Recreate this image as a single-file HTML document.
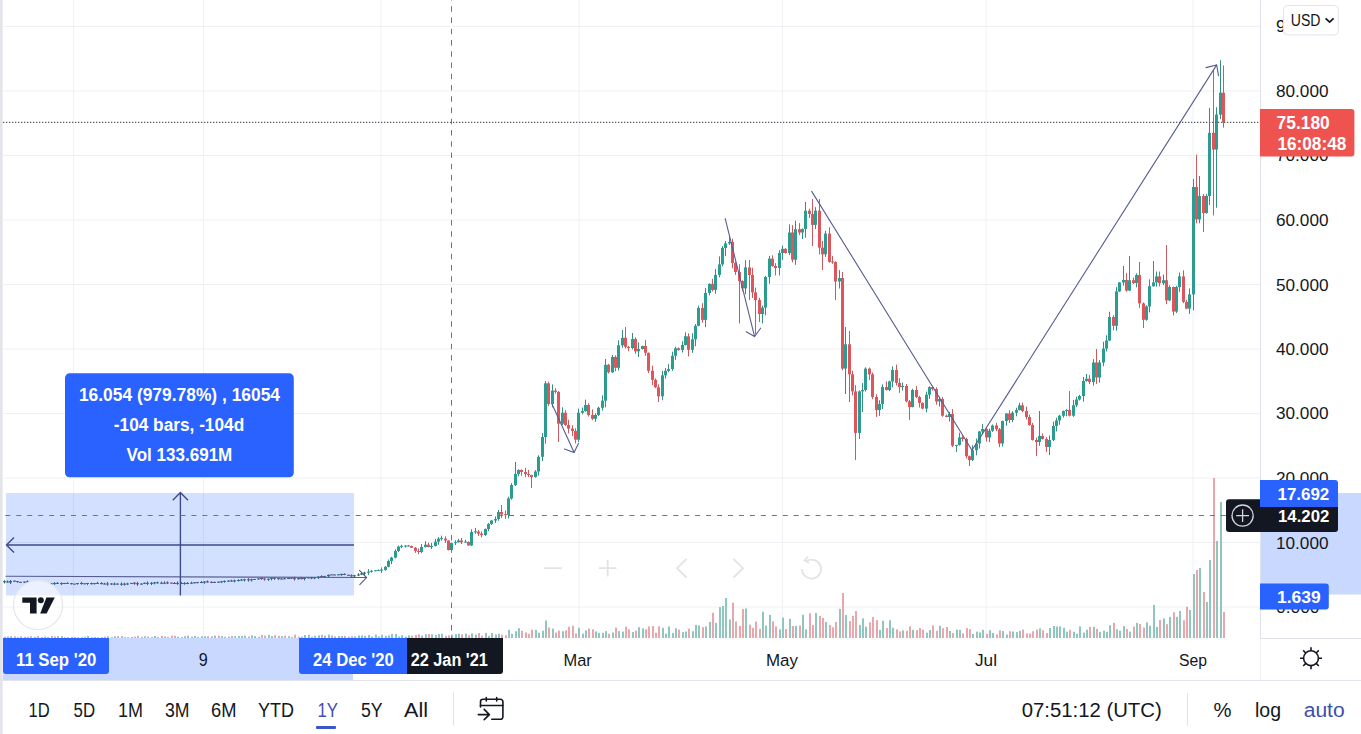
<!DOCTYPE html>
<html><head><meta charset="utf-8">
<style>
html,body{margin:0;padding:0;background:#fff;}
body{width:1361px;height:734px;overflow:hidden;position:relative;font-family:"Liberation Sans",sans-serif;}
svg{position:absolute;left:0;top:0;}
text{font-family:"Liberation Sans",sans-serif;}
</style></head><body>
<svg width="1361" height="734" viewBox="0 0 1361 734">
<rect x="0" y="0" width="1361" height="734" fill="#ffffff"/>
<!-- grid -->
<g stroke="#eff0f4" stroke-width="1">
<path d="M73.5 0V638M203.5 0V638M381 0V638M579 0V638M782.5 0V638M986 0V638M1193 0V638"/>
<path d="M3 26.5H1260M3 91H1260M3 155.5H1260M3 220H1260M3 284.5H1260M3 349H1260M3 413.5H1260M3 478H1260M3 542.5H1260M3 607H1260"/>
</g>
<!-- volume -->
<g>
<rect x="0" y="636.7" width="2" height="1.3" fill="#8fc7bf"/>
<rect x="4" y="636.7" width="2" height="1.3" fill="#8fc7bf"/>
<rect x="7" y="636.4" width="2" height="1.6" fill="#e9a7ac"/>
<rect x="10" y="636.2" width="2" height="1.8" fill="#8fc7bf"/>
<rect x="14" y="636.4" width="2" height="1.6" fill="#e9a7ac"/>
<rect x="17" y="637.1" width="2" height="0.9" fill="#e9a7ac"/>
<rect x="20" y="636.3" width="2" height="1.7" fill="#e9a7ac"/>
<rect x="24" y="636.8" width="2" height="1.2" fill="#8fc7bf"/>
<rect x="27" y="636.7" width="2" height="1.3" fill="#e9a7ac"/>
<rect x="30" y="636.2" width="2" height="1.8" fill="#e9a7ac"/>
<rect x="34" y="636.8" width="2" height="1.2" fill="#8fc7bf"/>
<rect x="37" y="636.0" width="2" height="2.0" fill="#e9a7ac"/>
<rect x="41" y="637.0" width="2" height="1.0" fill="#e9a7ac"/>
<rect x="44" y="636.5" width="2" height="1.5" fill="#8fc7bf"/>
<rect x="47" y="636.8" width="2" height="1.2" fill="#e9a7ac"/>
<rect x="51" y="636.0" width="2" height="2.0" fill="#e9a7ac"/>
<rect x="54" y="636.5" width="2" height="1.5" fill="#8fc7bf"/>
<rect x="57" y="636.1" width="2" height="1.9" fill="#e9a7ac"/>
<rect x="61" y="636.2" width="2" height="1.8" fill="#8fc7bf"/>
<rect x="64" y="637.2" width="2" height="0.8" fill="#e9a7ac"/>
<rect x="67" y="637.2" width="2" height="0.8" fill="#8fc7bf"/>
<rect x="71" y="636.9" width="2" height="1.1" fill="#e9a7ac"/>
<rect x="74" y="637.1" width="2" height="0.9" fill="#8fc7bf"/>
<rect x="77" y="637.3" width="2" height="0.7" fill="#8fc7bf"/>
<rect x="81" y="637.1" width="2" height="0.9" fill="#e9a7ac"/>
<rect x="84" y="636.8" width="2" height="1.2" fill="#8fc7bf"/>
<rect x="87" y="636.0" width="2" height="2.0" fill="#8fc7bf"/>
<rect x="91" y="637.2" width="2" height="0.8" fill="#e9a7ac"/>
<rect x="94" y="637.0" width="2" height="1.0" fill="#8fc7bf"/>
<rect x="97" y="637.3" width="2" height="0.7" fill="#e9a7ac"/>
<rect x="101" y="637.1" width="2" height="0.9" fill="#8fc7bf"/>
<rect x="104" y="636.6" width="2" height="1.4" fill="#e9a7ac"/>
<rect x="107" y="636.3" width="2" height="1.7" fill="#8fc7bf"/>
<rect x="111" y="637.1" width="2" height="0.9" fill="#e9a7ac"/>
<rect x="114" y="636.2" width="2" height="1.8" fill="#8fc7bf"/>
<rect x="117" y="636.1" width="2" height="1.9" fill="#e9a7ac"/>
<rect x="121" y="636.1" width="2" height="1.9" fill="#8fc7bf"/>
<rect x="124" y="636.9" width="2" height="1.1" fill="#e9a7ac"/>
<rect x="127" y="637.2" width="2" height="0.8" fill="#8fc7bf"/>
<rect x="131" y="636.9" width="2" height="1.1" fill="#8fc7bf"/>
<rect x="134" y="636.6" width="2" height="1.4" fill="#e9a7ac"/>
<rect x="137" y="635.8" width="2" height="2.2" fill="#e9a7ac"/>
<rect x="141" y="636.9" width="2" height="1.1" fill="#8fc7bf"/>
<rect x="144" y="636.3" width="2" height="1.7" fill="#8fc7bf"/>
<rect x="147" y="636.5" width="2" height="1.5" fill="#e9a7ac"/>
<rect x="151" y="637.1" width="2" height="0.9" fill="#8fc7bf"/>
<rect x="154" y="636.0" width="2" height="2.0" fill="#8fc7bf"/>
<rect x="157" y="636.9" width="2" height="1.1" fill="#8fc7bf"/>
<rect x="161" y="635.9" width="2" height="2.1" fill="#e9a7ac"/>
<rect x="164" y="636.5" width="2" height="1.5" fill="#8fc7bf"/>
<rect x="167" y="636.9" width="2" height="1.1" fill="#e9a7ac"/>
<rect x="171" y="635.7" width="2" height="2.3" fill="#e9a7ac"/>
<rect x="174" y="635.8" width="2" height="2.2" fill="#e9a7ac"/>
<rect x="177" y="636.6" width="2" height="1.4" fill="#8fc7bf"/>
<rect x="181" y="637.1" width="2" height="0.9" fill="#e9a7ac"/>
<rect x="184" y="636.2" width="2" height="1.8" fill="#8fc7bf"/>
<rect x="187" y="635.6" width="2" height="2.4" fill="#8fc7bf"/>
<rect x="191" y="636.7" width="2" height="1.3" fill="#8fc7bf"/>
<rect x="194" y="636.1" width="2" height="1.9" fill="#8fc7bf"/>
<rect x="197" y="636.9" width="2" height="1.1" fill="#e9a7ac"/>
<rect x="201" y="636.3" width="2" height="1.7" fill="#8fc7bf"/>
<rect x="204" y="636.3" width="2" height="1.7" fill="#8fc7bf"/>
<rect x="207" y="636.1" width="2" height="1.9" fill="#e9a7ac"/>
<rect x="211" y="636.3" width="2" height="1.7" fill="#e9a7ac"/>
<rect x="214" y="635.6" width="2" height="2.4" fill="#8fc7bf"/>
<rect x="218" y="635.7" width="2" height="2.3" fill="#e9a7ac"/>
<rect x="221" y="636.1" width="2" height="1.9" fill="#8fc7bf"/>
<rect x="224" y="636.8" width="2" height="1.2" fill="#8fc7bf"/>
<rect x="228" y="636.5" width="2" height="1.5" fill="#8fc7bf"/>
<rect x="231" y="635.9" width="2" height="2.1" fill="#e9a7ac"/>
<rect x="234" y="636.2" width="2" height="1.8" fill="#8fc7bf"/>
<rect x="238" y="636.0" width="2" height="2.0" fill="#8fc7bf"/>
<rect x="241" y="635.9" width="2" height="2.1" fill="#8fc7bf"/>
<rect x="244" y="635.6" width="2" height="2.4" fill="#8fc7bf"/>
<rect x="248" y="636.5" width="2" height="1.5" fill="#e9a7ac"/>
<rect x="251" y="635.3" width="2" height="2.7" fill="#8fc7bf"/>
<rect x="254" y="636.1" width="2" height="1.9" fill="#8fc7bf"/>
<rect x="258" y="636.8" width="2" height="1.2" fill="#8fc7bf"/>
<rect x="261" y="635.1" width="2" height="2.9" fill="#e9a7ac"/>
<rect x="264" y="635.6" width="2" height="2.4" fill="#e9a7ac"/>
<rect x="268" y="634.9" width="2" height="3.1" fill="#8fc7bf"/>
<rect x="271" y="636.1" width="2" height="1.9" fill="#8fc7bf"/>
<rect x="274" y="635.2" width="2" height="2.8" fill="#e9a7ac"/>
<rect x="278" y="635.8" width="2" height="2.2" fill="#e9a7ac"/>
<rect x="281" y="636.2" width="2" height="1.8" fill="#8fc7bf"/>
<rect x="284" y="635.7" width="2" height="2.3" fill="#e9a7ac"/>
<rect x="288" y="636.2" width="2" height="1.8" fill="#8fc7bf"/>
<rect x="291" y="636.8" width="2" height="1.2" fill="#e9a7ac"/>
<rect x="294" y="634.7" width="2" height="3.3" fill="#e9a7ac"/>
<rect x="298" y="636.8" width="2" height="1.2" fill="#8fc7bf"/>
<rect x="301" y="636.6" width="2" height="1.4" fill="#e9a7ac"/>
<rect x="304" y="635.0" width="2" height="3.0" fill="#8fc7bf"/>
<rect x="308" y="634.7" width="2" height="3.3" fill="#8fc7bf"/>
<rect x="311" y="636.6" width="2" height="1.4" fill="#e9a7ac"/>
<rect x="314" y="635.8" width="2" height="2.2" fill="#8fc7bf"/>
<rect x="318" y="635.3" width="2" height="2.7" fill="#8fc7bf"/>
<rect x="321" y="634.8" width="2" height="3.2" fill="#e9a7ac"/>
<rect x="324" y="635.7" width="2" height="2.3" fill="#8fc7bf"/>
<rect x="328" y="634.6" width="2" height="3.4" fill="#8fc7bf"/>
<rect x="331" y="635.5" width="2" height="2.5" fill="#e9a7ac"/>
<rect x="334" y="636.4" width="2" height="1.6" fill="#8fc7bf"/>
<rect x="338" y="636.0" width="2" height="2.0" fill="#8fc7bf"/>
<rect x="341" y="636.0" width="2" height="2.0" fill="#8fc7bf"/>
<rect x="344" y="635.9" width="2" height="2.1" fill="#e9a7ac"/>
<rect x="348" y="636.7" width="2" height="1.3" fill="#e9a7ac"/>
<rect x="351" y="636.2" width="2" height="1.8" fill="#e9a7ac"/>
<rect x="354" y="636.4" width="2" height="1.6" fill="#8fc7bf"/>
<rect x="358" y="635.4" width="2" height="2.6" fill="#8fc7bf"/>
<rect x="361" y="635.4" width="2" height="2.6" fill="#8fc7bf"/>
<rect x="364" y="635.8" width="2" height="2.2" fill="#8fc7bf"/>
<rect x="368" y="635.0" width="2" height="3.0" fill="#8fc7bf"/>
<rect x="371" y="636.5" width="2" height="1.5" fill="#8fc7bf"/>
<rect x="375" y="634.7" width="2" height="3.3" fill="#8fc7bf"/>
<rect x="378" y="636.4" width="2" height="1.6" fill="#8fc7bf"/>
<rect x="381" y="634.8" width="2" height="3.2" fill="#8fc7bf"/>
<rect x="385" y="635.8" width="2" height="2.2" fill="#8fc7bf"/>
<rect x="388" y="635.4" width="2" height="2.6" fill="#8fc7bf"/>
<rect x="391" y="633.9" width="2" height="4.1" fill="#8fc7bf"/>
<rect x="395" y="633.9" width="2" height="4.1" fill="#8fc7bf"/>
<rect x="398" y="636.6" width="2" height="1.4" fill="#8fc7bf"/>
<rect x="401" y="635.2" width="2" height="2.8" fill="#8fc7bf"/>
<rect x="405" y="636.6" width="2" height="1.4" fill="#8fc7bf"/>
<rect x="408" y="635.4" width="2" height="2.6" fill="#8fc7bf"/>
<rect x="411" y="635.7" width="2" height="2.3" fill="#e9a7ac"/>
<rect x="415" y="635.0" width="2" height="3.0" fill="#e9a7ac"/>
<rect x="418" y="634.4" width="2" height="3.6" fill="#e9a7ac"/>
<rect x="421" y="635.5" width="2" height="2.5" fill="#8fc7bf"/>
<rect x="425" y="634.3" width="2" height="3.7" fill="#8fc7bf"/>
<rect x="428" y="634.0" width="2" height="4.0" fill="#e9a7ac"/>
<rect x="431" y="634.3" width="2" height="3.7" fill="#8fc7bf"/>
<rect x="435" y="634.9" width="2" height="3.1" fill="#8fc7bf"/>
<rect x="438" y="634.0" width="2" height="4.0" fill="#8fc7bf"/>
<rect x="441" y="633.7" width="2" height="4.3" fill="#8fc7bf"/>
<rect x="445" y="635.7" width="2" height="2.3" fill="#e9a7ac"/>
<rect x="448" y="635.3" width="2" height="2.7" fill="#e9a7ac"/>
<rect x="451" y="634.6" width="2" height="3.4" fill="#8fc7bf"/>
<rect x="455" y="634.1" width="2" height="3.9" fill="#8fc7bf"/>
<rect x="458" y="633.6" width="2" height="4.4" fill="#8fc7bf"/>
<rect x="461" y="634.4" width="2" height="3.6" fill="#e9a7ac"/>
<rect x="465" y="633.6" width="2" height="4.4" fill="#8fc7bf"/>
<rect x="468" y="635.2" width="2" height="2.8" fill="#e9a7ac"/>
<rect x="471" y="633.4" width="2" height="4.6" fill="#8fc7bf"/>
<rect x="475" y="634.6" width="2" height="3.4" fill="#8fc7bf"/>
<rect x="478" y="633.0" width="2" height="5.0" fill="#e9a7ac"/>
<rect x="481" y="635.7" width="2" height="2.3" fill="#e9a7ac"/>
<rect x="485" y="632.9" width="2" height="5.1" fill="#8fc7bf"/>
<rect x="488" y="635.9" width="2" height="2.1" fill="#8fc7bf"/>
<rect x="491" y="633.0" width="2" height="5.0" fill="#8fc7bf"/>
<rect x="495" y="634.5" width="2" height="3.5" fill="#8fc7bf"/>
<rect x="498" y="633.7" width="2" height="4.3" fill="#8fc7bf"/>
<rect x="501" y="634.7" width="2" height="3.3" fill="#e9a7ac"/>
<rect x="505" y="635.3" width="2" height="2.7" fill="#e9a7ac"/>
<rect x="508" y="629.9" width="2" height="8.1" fill="#8fc7bf"/>
<rect x="511" y="633.8" width="2" height="4.2" fill="#8fc7bf"/>
<rect x="515" y="631.2" width="2" height="6.8" fill="#8fc7bf"/>
<rect x="518" y="628.2" width="2" height="9.8" fill="#8fc7bf"/>
<rect x="521" y="630.8" width="2" height="7.2" fill="#e9a7ac"/>
<rect x="525" y="632.5" width="2" height="5.5" fill="#e9a7ac"/>
<rect x="528" y="633.8" width="2" height="4.2" fill="#e9a7ac"/>
<rect x="531" y="629.7" width="2" height="8.3" fill="#e9a7ac"/>
<rect x="535" y="629.8" width="2" height="8.2" fill="#8fc7bf"/>
<rect x="538" y="632.6" width="2" height="5.4" fill="#8fc7bf"/>
<rect x="542" y="630.7" width="2" height="7.3" fill="#8fc7bf"/>
<rect x="545" y="620.5" width="2" height="17.5" fill="#8fc7bf"/>
<rect x="548" y="627.5" width="2" height="10.5" fill="#e9a7ac"/>
<rect x="552" y="628.6" width="2" height="9.4" fill="#8fc7bf"/>
<rect x="555" y="632.5" width="2" height="5.5" fill="#e9a7ac"/>
<rect x="558" y="630.7" width="2" height="7.3" fill="#e9a7ac"/>
<rect x="562" y="631.2" width="2" height="6.8" fill="#8fc7bf"/>
<rect x="565" y="630.4" width="2" height="7.6" fill="#e9a7ac"/>
<rect x="568" y="626.7" width="2" height="11.3" fill="#e9a7ac"/>
<rect x="572" y="625.8" width="2" height="12.2" fill="#e9a7ac"/>
<rect x="575" y="633.4" width="2" height="4.6" fill="#e9a7ac"/>
<rect x="578" y="627.8" width="2" height="10.2" fill="#8fc7bf"/>
<rect x="582" y="633.6" width="2" height="4.4" fill="#8fc7bf"/>
<rect x="585" y="630.4" width="2" height="7.6" fill="#8fc7bf"/>
<rect x="588" y="628.5" width="2" height="9.5" fill="#e9a7ac"/>
<rect x="592" y="629.3" width="2" height="8.7" fill="#e9a7ac"/>
<rect x="595" y="631.4" width="2" height="6.6" fill="#8fc7bf"/>
<rect x="598" y="632.9" width="2" height="5.1" fill="#8fc7bf"/>
<rect x="602" y="632.8" width="2" height="5.2" fill="#8fc7bf"/>
<rect x="605" y="631.1" width="2" height="6.9" fill="#8fc7bf"/>
<rect x="608" y="633.7" width="2" height="4.3" fill="#e9a7ac"/>
<rect x="612" y="632.5" width="2" height="5.5" fill="#8fc7bf"/>
<rect x="615" y="627.6" width="2" height="10.4" fill="#e9a7ac"/>
<rect x="618" y="631.1" width="2" height="6.9" fill="#8fc7bf"/>
<rect x="622" y="631.6" width="2" height="6.4" fill="#8fc7bf"/>
<rect x="625" y="626.8" width="2" height="11.2" fill="#e9a7ac"/>
<rect x="628" y="629.3" width="2" height="8.7" fill="#e9a7ac"/>
<rect x="632" y="632.0" width="2" height="6.0" fill="#8fc7bf"/>
<rect x="635" y="630.6" width="2" height="7.4" fill="#e9a7ac"/>
<rect x="638" y="627.2" width="2" height="10.8" fill="#8fc7bf"/>
<rect x="642" y="628.4" width="2" height="9.6" fill="#8fc7bf"/>
<rect x="645" y="629.3" width="2" height="8.7" fill="#e9a7ac"/>
<rect x="648" y="626.5" width="2" height="11.5" fill="#e9a7ac"/>
<rect x="652" y="626.1" width="2" height="11.9" fill="#e9a7ac"/>
<rect x="655" y="632.7" width="2" height="5.3" fill="#e9a7ac"/>
<rect x="658" y="626.3" width="2" height="11.7" fill="#e9a7ac"/>
<rect x="662" y="627.8" width="2" height="10.2" fill="#8fc7bf"/>
<rect x="665" y="633.6" width="2" height="4.4" fill="#8fc7bf"/>
<rect x="668" y="626.5" width="2" height="11.5" fill="#8fc7bf"/>
<rect x="672" y="632.9" width="2" height="5.1" fill="#8fc7bf"/>
<rect x="675" y="628.3" width="2" height="9.7" fill="#8fc7bf"/>
<rect x="678" y="629.7" width="2" height="8.3" fill="#e9a7ac"/>
<rect x="682" y="632.1" width="2" height="5.9" fill="#8fc7bf"/>
<rect x="685" y="631.5" width="2" height="6.5" fill="#8fc7bf"/>
<rect x="688" y="628.7" width="2" height="9.3" fill="#e9a7ac"/>
<rect x="692" y="631.2" width="2" height="6.8" fill="#8fc7bf"/>
<rect x="695" y="624.9" width="2" height="13.1" fill="#8fc7bf"/>
<rect x="698" y="625.5" width="2" height="12.5" fill="#8fc7bf"/>
<rect x="702" y="627.2" width="2" height="10.8" fill="#e9a7ac"/>
<rect x="705" y="626.5" width="2" height="11.5" fill="#8fc7bf"/>
<rect x="709" y="621.9" width="2" height="16.1" fill="#8fc7bf"/>
<rect x="712" y="612.8" width="2" height="25.2" fill="#e9a7ac"/>
<rect x="715" y="622.9" width="2" height="15.1" fill="#8fc7bf"/>
<rect x="719" y="607.1" width="2" height="30.9" fill="#8fc7bf"/>
<rect x="722" y="606.0" width="2" height="32.0" fill="#8fc7bf"/>
<rect x="725" y="598.0" width="2" height="40.0" fill="#8fc7bf"/>
<rect x="729" y="619.5" width="2" height="18.5" fill="#8fc7bf"/>
<rect x="732" y="602.7" width="2" height="35.3" fill="#e9a7ac"/>
<rect x="735" y="621.5" width="2" height="16.5" fill="#e9a7ac"/>
<rect x="739" y="625.9" width="2" height="12.1" fill="#e9a7ac"/>
<rect x="742" y="609.0" width="2" height="29.0" fill="#e9a7ac"/>
<rect x="745" y="608.5" width="2" height="29.5" fill="#8fc7bf"/>
<rect x="749" y="624.7" width="2" height="13.3" fill="#e9a7ac"/>
<rect x="752" y="627.9" width="2" height="10.1" fill="#e9a7ac"/>
<rect x="755" y="621.6" width="2" height="16.4" fill="#e9a7ac"/>
<rect x="759" y="628.8" width="2" height="9.2" fill="#e9a7ac"/>
<rect x="762" y="611.7" width="2" height="26.3" fill="#8fc7bf"/>
<rect x="765" y="625.5" width="2" height="12.5" fill="#8fc7bf"/>
<rect x="769" y="615.0" width="2" height="23.0" fill="#8fc7bf"/>
<rect x="772" y="621.4" width="2" height="16.6" fill="#e9a7ac"/>
<rect x="775" y="626.4" width="2" height="11.6" fill="#e9a7ac"/>
<rect x="779" y="629.3" width="2" height="8.7" fill="#8fc7bf"/>
<rect x="782" y="617.7" width="2" height="20.3" fill="#8fc7bf"/>
<rect x="785" y="629.2" width="2" height="8.8" fill="#e9a7ac"/>
<rect x="789" y="618.8" width="2" height="19.2" fill="#8fc7bf"/>
<rect x="792" y="626.0" width="2" height="12.0" fill="#e9a7ac"/>
<rect x="795" y="626.0" width="2" height="12.0" fill="#8fc7bf"/>
<rect x="799" y="625.5" width="2" height="12.5" fill="#e9a7ac"/>
<rect x="802" y="614.8" width="2" height="23.2" fill="#8fc7bf"/>
<rect x="805" y="629.3" width="2" height="8.7" fill="#8fc7bf"/>
<rect x="809" y="613.3" width="2" height="24.7" fill="#e9a7ac"/>
<rect x="812" y="625.0" width="2" height="13.0" fill="#e9a7ac"/>
<rect x="815" y="613.0" width="2" height="25.0" fill="#8fc7bf"/>
<rect x="819" y="615.9" width="2" height="22.1" fill="#e9a7ac"/>
<rect x="822" y="617.9" width="2" height="20.1" fill="#e9a7ac"/>
<rect x="825" y="622.1" width="2" height="15.9" fill="#8fc7bf"/>
<rect x="829" y="625.0" width="2" height="13.0" fill="#e9a7ac"/>
<rect x="832" y="627.3" width="2" height="10.7" fill="#e9a7ac"/>
<rect x="835" y="622.1" width="2" height="15.9" fill="#e9a7ac"/>
<rect x="839" y="608.9" width="2" height="29.1" fill="#8fc7bf"/>
<rect x="842" y="593.0" width="2" height="45.0" fill="#e9a7ac"/>
<rect x="845" y="615.0" width="2" height="23.0" fill="#8fc7bf"/>
<rect x="849" y="621.1" width="2" height="16.9" fill="#e9a7ac"/>
<rect x="852" y="615.8" width="2" height="22.2" fill="#e9a7ac"/>
<rect x="855" y="611.0" width="2" height="27.0" fill="#e9a7ac"/>
<rect x="859" y="624.9" width="2" height="13.1" fill="#8fc7bf"/>
<rect x="862" y="618.4" width="2" height="19.6" fill="#8fc7bf"/>
<rect x="865" y="626.7" width="2" height="11.3" fill="#8fc7bf"/>
<rect x="869" y="622.3" width="2" height="15.7" fill="#e9a7ac"/>
<rect x="872" y="617.0" width="2" height="21.0" fill="#e9a7ac"/>
<rect x="876" y="620.1" width="2" height="17.9" fill="#e9a7ac"/>
<rect x="879" y="630.0" width="2" height="8.0" fill="#8fc7bf"/>
<rect x="882" y="620.7" width="2" height="17.3" fill="#8fc7bf"/>
<rect x="886" y="628.1" width="2" height="9.9" fill="#e9a7ac"/>
<rect x="889" y="620.2" width="2" height="17.8" fill="#8fc7bf"/>
<rect x="892" y="627.8" width="2" height="10.2" fill="#8fc7bf"/>
<rect x="896" y="629.4" width="2" height="8.6" fill="#e9a7ac"/>
<rect x="899" y="631.4" width="2" height="6.6" fill="#e9a7ac"/>
<rect x="902" y="630.4" width="2" height="7.6" fill="#8fc7bf"/>
<rect x="906" y="630.7" width="2" height="7.3" fill="#e9a7ac"/>
<rect x="909" y="626.3" width="2" height="11.7" fill="#e9a7ac"/>
<rect x="912" y="629.8" width="2" height="8.2" fill="#8fc7bf"/>
<rect x="916" y="630.1" width="2" height="7.9" fill="#e9a7ac"/>
<rect x="919" y="628.1" width="2" height="9.9" fill="#e9a7ac"/>
<rect x="922" y="629.7" width="2" height="8.3" fill="#e9a7ac"/>
<rect x="926" y="632.7" width="2" height="5.3" fill="#8fc7bf"/>
<rect x="929" y="630.0" width="2" height="8.0" fill="#8fc7bf"/>
<rect x="932" y="625.5" width="2" height="12.5" fill="#e9a7ac"/>
<rect x="936" y="630.8" width="2" height="7.2" fill="#e9a7ac"/>
<rect x="939" y="625.8" width="2" height="12.2" fill="#8fc7bf"/>
<rect x="942" y="628.2" width="2" height="9.8" fill="#e9a7ac"/>
<rect x="946" y="627.0" width="2" height="11.0" fill="#e9a7ac"/>
<rect x="949" y="631.0" width="2" height="7.0" fill="#8fc7bf"/>
<rect x="952" y="633.0" width="2" height="5.0" fill="#e9a7ac"/>
<rect x="956" y="629.6" width="2" height="8.4" fill="#8fc7bf"/>
<rect x="959" y="629.9" width="2" height="8.1" fill="#8fc7bf"/>
<rect x="962" y="633.4" width="2" height="4.6" fill="#e9a7ac"/>
<rect x="966" y="628.1" width="2" height="9.9" fill="#e9a7ac"/>
<rect x="969" y="629.2" width="2" height="8.8" fill="#e9a7ac"/>
<rect x="972" y="633.9" width="2" height="4.1" fill="#8fc7bf"/>
<rect x="976" y="631.6" width="2" height="6.4" fill="#8fc7bf"/>
<rect x="979" y="632.4" width="2" height="5.6" fill="#8fc7bf"/>
<rect x="982" y="629.8" width="2" height="8.2" fill="#8fc7bf"/>
<rect x="986" y="633.7" width="2" height="4.3" fill="#e9a7ac"/>
<rect x="989" y="630.2" width="2" height="7.8" fill="#8fc7bf"/>
<rect x="992" y="632.9" width="2" height="5.1" fill="#8fc7bf"/>
<rect x="996" y="634.5" width="2" height="3.5" fill="#e9a7ac"/>
<rect x="999" y="630.4" width="2" height="7.6" fill="#e9a7ac"/>
<rect x="1002" y="631.0" width="2" height="7.0" fill="#8fc7bf"/>
<rect x="1006" y="634.5" width="2" height="3.5" fill="#8fc7bf"/>
<rect x="1009" y="631.3" width="2" height="6.7" fill="#e9a7ac"/>
<rect x="1012" y="631.4" width="2" height="6.6" fill="#8fc7bf"/>
<rect x="1016" y="632.1" width="2" height="5.9" fill="#8fc7bf"/>
<rect x="1019" y="630.8" width="2" height="7.2" fill="#8fc7bf"/>
<rect x="1022" y="629.6" width="2" height="8.4" fill="#e9a7ac"/>
<rect x="1026" y="633.4" width="2" height="4.6" fill="#e9a7ac"/>
<rect x="1029" y="633.6" width="2" height="4.4" fill="#e9a7ac"/>
<rect x="1032" y="631.2" width="2" height="6.8" fill="#e9a7ac"/>
<rect x="1036" y="629.6" width="2" height="8.4" fill="#e9a7ac"/>
<rect x="1039" y="628.4" width="2" height="9.6" fill="#8fc7bf"/>
<rect x="1042" y="630.2" width="2" height="7.8" fill="#e9a7ac"/>
<rect x="1046" y="633.0" width="2" height="5.0" fill="#e9a7ac"/>
<rect x="1049" y="628.0" width="2" height="10.0" fill="#8fc7bf"/>
<rect x="1053" y="626.0" width="2" height="12.0" fill="#8fc7bf"/>
<rect x="1056" y="626.5" width="2" height="11.5" fill="#8fc7bf"/>
<rect x="1059" y="626.4" width="2" height="11.6" fill="#8fc7bf"/>
<rect x="1063" y="627.8" width="2" height="10.2" fill="#8fc7bf"/>
<rect x="1066" y="631.7" width="2" height="6.3" fill="#8fc7bf"/>
<rect x="1069" y="629.9" width="2" height="8.1" fill="#e9a7ac"/>
<rect x="1073" y="631.8" width="2" height="6.2" fill="#8fc7bf"/>
<rect x="1076" y="633.7" width="2" height="4.3" fill="#8fc7bf"/>
<rect x="1079" y="626.4" width="2" height="11.6" fill="#8fc7bf"/>
<rect x="1083" y="632.6" width="2" height="5.4" fill="#8fc7bf"/>
<rect x="1086" y="629.7" width="2" height="8.3" fill="#8fc7bf"/>
<rect x="1089" y="626.9" width="2" height="11.1" fill="#e9a7ac"/>
<rect x="1093" y="626.8" width="2" height="11.2" fill="#8fc7bf"/>
<rect x="1096" y="628.8" width="2" height="9.2" fill="#e9a7ac"/>
<rect x="1099" y="631.8" width="2" height="6.2" fill="#8fc7bf"/>
<rect x="1103" y="630.6" width="2" height="7.4" fill="#8fc7bf"/>
<rect x="1106" y="631.8" width="2" height="6.2" fill="#8fc7bf"/>
<rect x="1109" y="625.3" width="2" height="12.7" fill="#8fc7bf"/>
<rect x="1113" y="622.9" width="2" height="15.1" fill="#e9a7ac"/>
<rect x="1116" y="629.3" width="2" height="8.7" fill="#8fc7bf"/>
<rect x="1119" y="630.7" width="2" height="7.3" fill="#8fc7bf"/>
<rect x="1123" y="626.1" width="2" height="11.9" fill="#8fc7bf"/>
<rect x="1126" y="629.1" width="2" height="8.9" fill="#e9a7ac"/>
<rect x="1129" y="631.6" width="2" height="6.4" fill="#8fc7bf"/>
<rect x="1133" y="626.6" width="2" height="11.4" fill="#e9a7ac"/>
<rect x="1136" y="622.9" width="2" height="15.1" fill="#8fc7bf"/>
<rect x="1139" y="624.0" width="2" height="14.0" fill="#e9a7ac"/>
<rect x="1143" y="627.5" width="2" height="10.5" fill="#e9a7ac"/>
<rect x="1146" y="622.3" width="2" height="15.7" fill="#8fc7bf"/>
<rect x="1149" y="625.8" width="2" height="12.2" fill="#8fc7bf"/>
<rect x="1153" y="605.0" width="2" height="33.0" fill="#8fc7bf"/>
<rect x="1156" y="627.0" width="2" height="11.0" fill="#8fc7bf"/>
<rect x="1159" y="619.9" width="2" height="18.1" fill="#e9a7ac"/>
<rect x="1163" y="618.5" width="2" height="19.5" fill="#8fc7bf"/>
<rect x="1166" y="624.2" width="2" height="13.8" fill="#e9a7ac"/>
<rect x="1169" y="616.9" width="2" height="21.1" fill="#8fc7bf"/>
<rect x="1173" y="612.3" width="2" height="25.7" fill="#e9a7ac"/>
<rect x="1176" y="616.8" width="2" height="21.2" fill="#8fc7bf"/>
<rect x="1179" y="611.0" width="2" height="27.0" fill="#8fc7bf"/>
<rect x="1183" y="620.3" width="2" height="17.7" fill="#e9a7ac"/>
<rect x="1186" y="606.7" width="2" height="31.3" fill="#e9a7ac"/>
<rect x="1189" y="610.0" width="2" height="28.0" fill="#8fc7bf"/>
<rect x="1193" y="574.0" width="2" height="64.0" fill="#8fc7bf"/>
<rect x="1196" y="570.0" width="2" height="68.0" fill="#e9a7ac"/>
<rect x="1199" y="568.0" width="2" height="70.0" fill="#8fc7bf"/>
<rect x="1203" y="592.0" width="2" height="46.0" fill="#e9a7ac"/>
<rect x="1206" y="602.0" width="2" height="36.0" fill="#8fc7bf"/>
<rect x="1209" y="560.0" width="2" height="78.0" fill="#8fc7bf"/>
<rect x="1213" y="478.0" width="2" height="160.0" fill="#e9a7ac"/>
<rect x="1216" y="541.0" width="2" height="97.0" fill="#8fc7bf"/>
<rect x="1220" y="502.0" width="2" height="136.0" fill="#8fc7bf"/>
<rect x="1223" y="612.0" width="2" height="26.0" fill="#e9a7ac"/>
</g>
<!-- candles -->
<g stroke-width="1">
<path d="M0.5 581.1V583.4" stroke="#2f6f70"/>
<rect x="-1" y="581.8" width="3" height="1.0" fill="#2f6f70"/>
<path d="M4.5 580.2V583.5" stroke="#2f6f70"/>
<rect x="3" y="581.2" width="3" height="1.0" fill="#2f6f70"/>
<path d="M7.5 580.5V582.6" stroke="#7e4a5e"/>
<rect x="6" y="581.5" width="3" height="1.0" fill="#7e4a5e"/>
<path d="M10.5 580.0V584.1" stroke="#2f6f70"/>
<rect x="9" y="581.0" width="3" height="1.5" fill="#2f6f70"/>
<path d="M14.5 580.6V581.8" stroke="#7e4a5e"/>
<rect x="13" y="580.6" width="3" height="1.0" fill="#7e4a5e"/>
<path d="M17.5 581.1V582.7" stroke="#7e4a5e"/>
<rect x="16" y="581.1" width="3" height="1.0" fill="#7e4a5e"/>
<path d="M20.5 581.8V582.6" stroke="#7e4a5e"/>
<rect x="19" y="581.8" width="3" height="1.0" fill="#7e4a5e"/>
<path d="M24.5 581.6V582.9" stroke="#2f6f70"/>
<rect x="23" y="581.6" width="3" height="1.0" fill="#2f6f70"/>
<path d="M27.5 580.4V582.2" stroke="#7e4a5e"/>
<rect x="26" y="581.4" width="3" height="1.0" fill="#7e4a5e"/>
<path d="M51.5 583.3V584.8" stroke="#7e4a5e"/>
<rect x="50" y="583.4" width="3" height="1.0" fill="#7e4a5e"/>
<path d="M54.5 582.1V584.8" stroke="#2f6f70"/>
<rect x="53" y="583.1" width="3" height="1.0" fill="#2f6f70"/>
<path d="M57.5 582.1V583.9" stroke="#7e4a5e"/>
<rect x="56" y="582.9" width="3" height="1.0" fill="#7e4a5e"/>
<path d="M61.5 582.3V585.1" stroke="#2f6f70"/>
<rect x="60" y="583.1" width="3" height="1.0" fill="#2f6f70"/>
<path d="M64.5 582.9V584.1" stroke="#7e4a5e"/>
<rect x="63" y="583.0" width="3" height="1.0" fill="#7e4a5e"/>
<path d="M67.5 582.3V583.7" stroke="#2f6f70"/>
<rect x="66" y="582.9" width="3" height="1.0" fill="#2f6f70"/>
<path d="M71.5 582.9V584.5" stroke="#7e4a5e"/>
<rect x="70" y="583.2" width="3" height="1.0" fill="#7e4a5e"/>
<path d="M74.5 583.9V584.3" stroke="#2f6f70"/>
<rect x="73" y="583.6" width="3" height="1.0" fill="#2f6f70"/>
<path d="M77.5 583.0V584.6" stroke="#2f6f70"/>
<rect x="76" y="583.1" width="3" height="1.0" fill="#2f6f70"/>
<path d="M81.5 581.8V584.7" stroke="#7e4a5e"/>
<rect x="80" y="583.0" width="3" height="1.0" fill="#7e4a5e"/>
<path d="M84.5 583.4V584.3" stroke="#2f6f70"/>
<rect x="83" y="583.3" width="3" height="1.0" fill="#2f6f70"/>
<path d="M87.5 583.0V585.1" stroke="#2f6f70"/>
<rect x="86" y="583.0" width="3" height="1.0" fill="#2f6f70"/>
<path d="M91.5 582.6V584.7" stroke="#7e4a5e"/>
<rect x="90" y="583.1" width="3" height="1.0" fill="#7e4a5e"/>
<path d="M94.5 583.0V584.5" stroke="#2f6f70"/>
<rect x="93" y="583.1" width="3" height="1.0" fill="#2f6f70"/>
<path d="M97.5 581.9V583.9" stroke="#7e4a5e"/>
<rect x="96" y="582.9" width="3" height="1.0" fill="#7e4a5e"/>
<path d="M101.5 582.1V584.4" stroke="#2f6f70"/>
<rect x="100" y="583.1" width="3" height="1.0" fill="#2f6f70"/>
<path d="M104.5 582.8V584.5" stroke="#7e4a5e"/>
<rect x="103" y="583.5" width="3" height="1.0" fill="#7e4a5e"/>
<path d="M107.5 582.0V585.7" stroke="#2f6f70"/>
<rect x="106" y="583.5" width="3" height="1.0" fill="#2f6f70"/>
<path d="M111.5 583.1V584.9" stroke="#7e4a5e"/>
<rect x="110" y="583.5" width="3" height="1.0" fill="#7e4a5e"/>
<path d="M114.5 582.6V585.2" stroke="#2f6f70"/>
<rect x="113" y="583.6" width="3" height="1.0" fill="#2f6f70"/>
<path d="M117.5 583.3V584.7" stroke="#7e4a5e"/>
<rect x="116" y="583.6" width="3" height="1.0" fill="#7e4a5e"/>
<path d="M121.5 582.4V585.7" stroke="#2f6f70"/>
<rect x="120" y="583.7" width="3" height="1.0" fill="#2f6f70"/>
<path d="M124.5 582.7V585.6" stroke="#7e4a5e"/>
<rect x="123" y="583.7" width="3" height="1.0" fill="#7e4a5e"/>
<path d="M127.5 582.8V585.0" stroke="#2f6f70"/>
<rect x="126" y="583.5" width="3" height="1.0" fill="#2f6f70"/>
<path d="M131.5 583.1V584.0" stroke="#2f6f70"/>
<rect x="130" y="582.9" width="3" height="1.0" fill="#2f6f70"/>
<path d="M134.5 582.1V584.8" stroke="#7e4a5e"/>
<rect x="133" y="582.7" width="3" height="1.0" fill="#7e4a5e"/>
<path d="M137.5 581.8V585.9" stroke="#7e4a5e"/>
<rect x="136" y="583.2" width="3" height="1.1" fill="#7e4a5e"/>
<path d="M141.5 583.3V584.7" stroke="#2f6f70"/>
<rect x="140" y="583.6" width="3" height="1.0" fill="#2f6f70"/>
<path d="M144.5 582.5V584.1" stroke="#2f6f70"/>
<rect x="143" y="582.8" width="3" height="1.0" fill="#2f6f70"/>
<path d="M147.5 581.4V585.1" stroke="#7e4a5e"/>
<rect x="146" y="582.8" width="3" height="1.0" fill="#7e4a5e"/>
<path d="M151.5 582.0V585.1" stroke="#2f6f70"/>
<rect x="150" y="582.9" width="3" height="1.0" fill="#2f6f70"/>
<path d="M154.5 581.9V584.4" stroke="#2f6f70"/>
<rect x="153" y="582.4" width="3" height="1.0" fill="#2f6f70"/>
<path d="M157.5 581.7V583.6" stroke="#2f6f70"/>
<rect x="156" y="582.3" width="3" height="1.0" fill="#2f6f70"/>
<path d="M161.5 581.6V584.1" stroke="#7e4a5e"/>
<rect x="160" y="582.7" width="3" height="1.0" fill="#7e4a5e"/>
<path d="M164.5 581.3V584.2" stroke="#2f6f70"/>
<rect x="163" y="582.7" width="3" height="1.0" fill="#2f6f70"/>
<path d="M167.5 581.4V584.1" stroke="#7e4a5e"/>
<rect x="166" y="582.4" width="3" height="1.0" fill="#7e4a5e"/>
<path d="M171.5 582.8V583.4" stroke="#7e4a5e"/>
<rect x="170" y="582.6" width="3" height="1.0" fill="#7e4a5e"/>
<path d="M174.5 582.0V584.1" stroke="#7e4a5e"/>
<rect x="173" y="583.0" width="3" height="1.0" fill="#7e4a5e"/>
<path d="M177.5 581.5V584.9" stroke="#2f6f70"/>
<rect x="176" y="582.9" width="3" height="1.0" fill="#2f6f70"/>
<path d="M181.5 582.2V583.9" stroke="#7e4a5e"/>
<rect x="180" y="582.9" width="3" height="1.0" fill="#7e4a5e"/>
<path d="M184.5 582.1V584.7" stroke="#2f6f70"/>
<rect x="183" y="583.1" width="3" height="1.0" fill="#2f6f70"/>
<path d="M187.5 582.0V584.2" stroke="#2f6f70"/>
<rect x="186" y="583.0" width="3" height="1.0" fill="#2f6f70"/>
<path d="M191.5 581.7V583.8" stroke="#2f6f70"/>
<rect x="190" y="582.7" width="3" height="1.0" fill="#2f6f70"/>
<path d="M194.5 582.2V583.4" stroke="#2f6f70"/>
<rect x="193" y="582.3" width="3" height="1.0" fill="#2f6f70"/>
<path d="M197.5 582.2V583.3" stroke="#7e4a5e"/>
<rect x="196" y="582.1" width="3" height="1.0" fill="#7e4a5e"/>
<path d="M201.5 581.0V583.2" stroke="#2f6f70"/>
<rect x="200" y="582.0" width="3" height="1.0" fill="#2f6f70"/>
<path d="M204.5 581.0V583.8" stroke="#2f6f70"/>
<rect x="203" y="581.6" width="3" height="1.0" fill="#2f6f70"/>
<path d="M207.5 580.4V582.7" stroke="#7e4a5e"/>
<rect x="206" y="581.4" width="3" height="1.0" fill="#7e4a5e"/>
<path d="M211.5 581.2V582.9" stroke="#7e4a5e"/>
<rect x="210" y="581.9" width="3" height="1.0" fill="#7e4a5e"/>
<path d="M214.5 581.6V582.9" stroke="#2f6f70"/>
<rect x="213" y="581.9" width="3" height="1.0" fill="#2f6f70"/>
<path d="M218.5 581.7V583.0" stroke="#7e4a5e"/>
<rect x="217" y="581.6" width="3" height="1.0" fill="#7e4a5e"/>
<path d="M221.5 580.8V582.8" stroke="#2f6f70"/>
<rect x="220" y="581.4" width="3" height="1.0" fill="#2f6f70"/>
<path d="M224.5 580.5V582.8" stroke="#2f6f70"/>
<rect x="223" y="580.9" width="3" height="1.0" fill="#2f6f70"/>
<path d="M228.5 580.1V581.7" stroke="#2f6f70"/>
<rect x="227" y="580.6" width="3" height="1.0" fill="#2f6f70"/>
<path d="M231.5 579.7V581.7" stroke="#7e4a5e"/>
<rect x="230" y="580.5" width="3" height="1.0" fill="#7e4a5e"/>
<path d="M234.5 579.6V582.4" stroke="#2f6f70"/>
<rect x="233" y="580.4" width="3" height="1.0" fill="#2f6f70"/>
<path d="M238.5 579.3V581.5" stroke="#2f6f70"/>
<rect x="237" y="580.0" width="3" height="1.0" fill="#2f6f70"/>
<path d="M241.5 578.9V580.9" stroke="#2f6f70"/>
<rect x="240" y="579.6" width="3" height="1.0" fill="#2f6f70"/>
<path d="M244.5 578.8V581.5" stroke="#2f6f70"/>
<rect x="243" y="579.3" width="3" height="1.0" fill="#2f6f70"/>
<path d="M248.5 578.1V581.6" stroke="#7e4a5e"/>
<rect x="247" y="579.3" width="3" height="1.0" fill="#7e4a5e"/>
<path d="M251.5 578.7V581.6" stroke="#2f6f70"/>
<rect x="250" y="579.3" width="3" height="1.0" fill="#2f6f70"/>
<path d="M254.5 579.1V579.7" stroke="#2f6f70"/>
<rect x="253" y="578.9" width="3" height="1.0" fill="#2f6f70"/>
<path d="M258.5 578.3V579.7" stroke="#2f6f70"/>
<rect x="257" y="578.4" width="3" height="1.0" fill="#2f6f70"/>
<path d="M261.5 577.5V579.8" stroke="#7e4a5e"/>
<rect x="260" y="578.0" width="3" height="1.0" fill="#7e4a5e"/>
<path d="M264.5 578.3V580.6" stroke="#7e4a5e"/>
<rect x="263" y="578.5" width="3" height="1.0" fill="#7e4a5e"/>
<path d="M268.5 578.6V580.9" stroke="#2f6f70"/>
<rect x="267" y="578.7" width="3" height="1.0" fill="#2f6f70"/>
<path d="M271.5 577.7V580.4" stroke="#2f6f70"/>
<rect x="270" y="577.9" width="3" height="1.0" fill="#2f6f70"/>
<path d="M274.5 577.3V579.9" stroke="#7e4a5e"/>
<rect x="273" y="577.7" width="3" height="1.0" fill="#7e4a5e"/>
<path d="M278.5 578.0V579.8" stroke="#7e4a5e"/>
<rect x="277" y="578.2" width="3" height="1.0" fill="#7e4a5e"/>
<path d="M281.5 578.3V579.4" stroke="#2f6f70"/>
<rect x="280" y="578.5" width="3" height="1.0" fill="#2f6f70"/>
<path d="M284.5 577.7V579.1" stroke="#7e4a5e"/>
<rect x="283" y="578.4" width="3" height="1.0" fill="#7e4a5e"/>
<path d="M288.5 577.4V579.1" stroke="#2f6f70"/>
<rect x="287" y="578.0" width="3" height="1.0" fill="#2f6f70"/>
<path d="M291.5 577.1V579.0" stroke="#7e4a5e"/>
<rect x="290" y="577.6" width="3" height="1.0" fill="#7e4a5e"/>
<path d="M294.5 576.6V580.5" stroke="#7e4a5e"/>
<rect x="293" y="578.2" width="3" height="1.0" fill="#7e4a5e"/>
<path d="M298.5 577.9V579.6" stroke="#2f6f70"/>
<rect x="297" y="578.1" width="3" height="1.1" fill="#2f6f70"/>
<path d="M301.5 576.9V579.4" stroke="#7e4a5e"/>
<rect x="300" y="578.1" width="3" height="1.0" fill="#7e4a5e"/>
<path d="M304.5 577.4V580.4" stroke="#2f6f70"/>
<rect x="303" y="578.0" width="3" height="1.0" fill="#2f6f70"/>
<path d="M308.5 577.4V578.2" stroke="#2f6f70"/>
<rect x="307" y="577.4" width="3" height="1.0" fill="#2f6f70"/>
<path d="M311.5 576.9V579.2" stroke="#7e4a5e"/>
<rect x="310" y="577.4" width="3" height="1.0" fill="#7e4a5e"/>
<path d="M314.5 577.5V579.2" stroke="#2f6f70"/>
<rect x="313" y="577.4" width="3" height="1.0" fill="#2f6f70"/>
<path d="M318.5 576.4V579.1" stroke="#2f6f70"/>
<rect x="317" y="576.6" width="3" height="1.0" fill="#2f6f70"/>
<path d="M321.5 575.3V576.8" stroke="#7e4a5e"/>
<rect x="320" y="576.1" width="3" height="1.0" fill="#7e4a5e"/>
<path d="M324.5 576.1V578.0" stroke="#2f6f70"/>
<rect x="323" y="575.9" width="3" height="1.0" fill="#2f6f70"/>
<path d="M328.5 574.4V577.0" stroke="#2f6f70"/>
<rect x="327" y="574.9" width="3" height="1.3" fill="#2f6f70"/>
<path d="M331.5 574.5V575.2" stroke="#7e4a5e"/>
<rect x="330" y="574.4" width="3" height="1.0" fill="#7e4a5e"/>
<path d="M334.5 574.6V575.2" stroke="#2f6f70"/>
<rect x="333" y="574.5" width="3" height="1.0" fill="#2f6f70"/>
<path d="M338.5 574.6V575.2" stroke="#2f6f70"/>
<rect x="337" y="574.3" width="3" height="1.0" fill="#2f6f70"/>
<path d="M341.5 573.6V575.9" stroke="#2f6f70"/>
<rect x="340" y="573.9" width="3" height="1.0" fill="#2f6f70"/>
<path d="M344.5 573.3V575.1" stroke="#7e4a5e"/>
<rect x="343" y="573.9" width="3" height="1.0" fill="#7e4a5e"/>
<path d="M348.5 574.8V575.9" stroke="#7e4a5e"/>
<rect x="347" y="574.7" width="3" height="1.0" fill="#7e4a5e"/>
<path d="M351.5 574.4V576.9" stroke="#7e4a5e"/>
<rect x="350" y="575.3" width="3" height="1.0" fill="#7e4a5e"/>
<path d="M354.5 574.8V577.6" stroke="#2f6f70"/>
<rect x="353" y="575.3" width="3" height="1.0" fill="#2f6f70"/>
<path d="M358.5 573.2V576.1" stroke="#2f6f70"/>
<rect x="357" y="574.5" width="3" height="1.0" fill="#2f6f70"/>
<path d="M361.5 572.2V575.1" stroke="#2f6f70"/>
<rect x="360" y="573.5" width="3" height="1.0" fill="#2f6f70"/>
<path d="M364.5 571.8V575.1" stroke="#2f6f70"/>
<rect x="363" y="572.6" width="3" height="1.0" fill="#2f6f70"/>
<path d="M368.5 569.1V574.9" stroke="#33907f"/>
<rect x="367" y="571.6" width="3" height="1.2" fill="#2c9c90"/>
<path d="M371.5 569.9V572.6" stroke="#33907f"/>
<rect x="370" y="570.8" width="3" height="1.0" fill="#2c9c90"/>
<path d="M375.5 570.1V571.3" stroke="#33907f"/>
<rect x="374" y="570.2" width="3" height="1.0" fill="#2c9c90"/>
<path d="M378.5 569.5V571.0" stroke="#33907f"/>
<rect x="377" y="569.9" width="3" height="1.0" fill="#2c9c90"/>
<path d="M381.5 567.4V572.9" stroke="#33907f"/>
<rect x="380" y="569.6" width="3" height="1.0" fill="#2c9c90"/>
<path d="M385.5 566.0V570.7" stroke="#33907f"/>
<rect x="384" y="566.8" width="3" height="3.2" fill="#2c9c90"/>
<path d="M388.5 559.6V567.3" stroke="#33907f"/>
<rect x="387" y="561.0" width="3" height="5.8" fill="#2c9c90"/>
<path d="M391.5 556.8V564.2" stroke="#33907f"/>
<rect x="390" y="557.6" width="3" height="3.4" fill="#2c9c90"/>
<path d="M395.5 549.3V558.4" stroke="#33907f"/>
<rect x="394" y="551.0" width="3" height="6.6" fill="#2c9c90"/>
<path d="M398.5 545.6V552.1" stroke="#33907f"/>
<rect x="397" y="546.6" width="3" height="4.4" fill="#2c9c90"/>
<path d="M401.5 544.8V548.1" stroke="#33907f"/>
<rect x="400" y="545.8" width="3" height="1.0" fill="#2c9c90"/>
<path d="M405.5 545.3V547.6" stroke="#33907f"/>
<rect x="404" y="545.5" width="3" height="1.0" fill="#2c9c90"/>
<path d="M408.5 545.1V546.4" stroke="#33907f"/>
<rect x="407" y="545.5" width="3" height="1.0" fill="#2c9c90"/>
<path d="M411.5 545.7V548.0" stroke="#c85a60"/>
<rect x="410" y="546.0" width="3" height="1.8" fill="#dc565c"/>
<path d="M415.5 547.0V552.9" stroke="#c85a60"/>
<rect x="414" y="547.8" width="3" height="3.2" fill="#dc565c"/>
<path d="M418.5 548.5V554.1" stroke="#c85a60"/>
<rect x="417" y="551.0" width="3" height="1.0" fill="#dc565c"/>
<path d="M421.5 544.0V553.2" stroke="#33907f"/>
<rect x="420" y="547.0" width="3" height="5.0" fill="#2c9c90"/>
<path d="M425.5 541.2V547.5" stroke="#33907f"/>
<rect x="424" y="544.7" width="3" height="2.3" fill="#2c9c90"/>
<path d="M428.5 542.6V547.3" stroke="#c85a60"/>
<rect x="427" y="544.7" width="3" height="2.3" fill="#dc565c"/>
<path d="M431.5 542.9V549.1" stroke="#33907f"/>
<rect x="430" y="546.0" width="3" height="1.0" fill="#2c9c90"/>
<path d="M435.5 538.9V546.5" stroke="#33907f"/>
<rect x="434" y="541.7" width="3" height="4.3" fill="#2c9c90"/>
<path d="M438.5 536.9V544.7" stroke="#33907f"/>
<rect x="437" y="538.6" width="3" height="3.1" fill="#2c9c90"/>
<path d="M441.5 535.7V540.6" stroke="#33907f"/>
<rect x="440" y="538.1" width="3" height="1.0" fill="#2c9c90"/>
<path d="M445.5 536.3V542.9" stroke="#c85a60"/>
<rect x="444" y="538.6" width="3" height="1.9" fill="#dc565c"/>
<path d="M448.5 540.3V550.5" stroke="#c85a60"/>
<rect x="447" y="540.5" width="3" height="9.5" fill="#dc565c"/>
<path d="M451.5 542.6V552.9" stroke="#33907f"/>
<rect x="450" y="543.0" width="3" height="7.0" fill="#2c9c90"/>
<path d="M455.5 540.2V545.1" stroke="#33907f"/>
<rect x="454" y="542.1" width="3" height="1.0" fill="#2c9c90"/>
<path d="M458.5 538.9V542.5" stroke="#33907f"/>
<rect x="457" y="540.5" width="3" height="1.8" fill="#2c9c90"/>
<path d="M461.5 537.9V544.0" stroke="#c85a60"/>
<rect x="460" y="540.5" width="3" height="1.8" fill="#dc565c"/>
<path d="M465.5 539.8V542.6" stroke="#33907f"/>
<rect x="464" y="541.6" width="3" height="1.0" fill="#2c9c90"/>
<path d="M468.5 541.2V545.7" stroke="#c85a60"/>
<rect x="467" y="542.0" width="3" height="3.4" fill="#dc565c"/>
<path d="M471.5 529.4V546.1" stroke="#33907f"/>
<rect x="470" y="532.0" width="3" height="13.4" fill="#2c9c90"/>
<path d="M475.5 527.9V533.7" stroke="#33907f"/>
<rect x="474" y="531.3" width="3" height="1.0" fill="#2c9c90"/>
<path d="M478.5 530.0V536.0" stroke="#c85a60"/>
<rect x="477" y="531.6" width="3" height="2.0" fill="#dc565c"/>
<path d="M481.5 531.5V537.3" stroke="#c85a60"/>
<rect x="480" y="533.6" width="3" height="1.4" fill="#dc565c"/>
<path d="M485.5 528.4V535.9" stroke="#33907f"/>
<rect x="484" y="529.0" width="3" height="6.0" fill="#2c9c90"/>
<path d="M488.5 522.9V531.1" stroke="#33907f"/>
<rect x="487" y="524.0" width="3" height="5.0" fill="#2c9c90"/>
<path d="M491.5 520.1V525.0" stroke="#33907f"/>
<rect x="490" y="520.5" width="3" height="3.5" fill="#2c9c90"/>
<path d="M495.5 516.4V523.1" stroke="#33907f"/>
<rect x="494" y="519.0" width="3" height="1.5" fill="#2c9c90"/>
<path d="M498.5 510.0V520.8" stroke="#33907f"/>
<rect x="497" y="512.0" width="3" height="7.0" fill="#2c9c90"/>
<path d="M501.5 505.0V518.0" stroke="#c85a60"/>
<rect x="500" y="512.0" width="3" height="2.4" fill="#dc565c"/>
<path d="M505.5 510.4V518.8" stroke="#c85a60"/>
<rect x="504" y="514.2" width="3" height="1.0" fill="#dc565c"/>
<path d="M508.5 496.7V518.5" stroke="#33907f"/>
<rect x="507" y="498.5" width="3" height="16.5" fill="#2c9c90"/>
<path d="M511.5 483.1V499.6" stroke="#33907f"/>
<rect x="510" y="485.0" width="3" height="13.5" fill="#2c9c90"/>
<path d="M515.5 462.0V486.0" stroke="#33907f"/>
<rect x="514" y="474.0" width="3" height="11.0" fill="#2c9c90"/>
<path d="M518.5 469.3V476.3" stroke="#33907f"/>
<rect x="517" y="470.0" width="3" height="4.0" fill="#2c9c90"/>
<path d="M521.5 469.3V475.8" stroke="#c85a60"/>
<rect x="520" y="470.0" width="3" height="2.0" fill="#dc565c"/>
<path d="M525.5 467.9V477.2" stroke="#c85a60"/>
<rect x="524" y="472.0" width="3" height="2.0" fill="#dc565c"/>
<path d="M528.5 469.8V477.1" stroke="#c85a60"/>
<rect x="527" y="474.0" width="3" height="1.0" fill="#dc565c"/>
<path d="M531.5 474.8V488.0" stroke="#c85a60"/>
<rect x="530" y="475.0" width="3" height="2.0" fill="#dc565c"/>
<path d="M535.5 470.2V477.7" stroke="#33907f"/>
<rect x="534" y="471.5" width="3" height="5.5" fill="#2c9c90"/>
<path d="M538.5 455.3V475.6" stroke="#33907f"/>
<rect x="537" y="456.8" width="3" height="14.7" fill="#2c9c90"/>
<path d="M542.5 433.1V461.2" stroke="#33907f"/>
<rect x="541" y="437.0" width="3" height="19.8" fill="#2c9c90"/>
<path d="M545.5 381.0V443.6" stroke="#33907f"/>
<rect x="544" y="383.3" width="3" height="53.7" fill="#2c9c90"/>
<path d="M548.5 381.7V406.0" stroke="#c85a60"/>
<rect x="547" y="383.3" width="3" height="20.7" fill="#dc565c"/>
<path d="M552.5 384.4V407.4" stroke="#33907f"/>
<rect x="551" y="390.6" width="3" height="13.4" fill="#2c9c90"/>
<path d="M555.5 388.2V393.5" stroke="#c85a60"/>
<rect x="554" y="390.6" width="3" height="1.3" fill="#dc565c"/>
<path d="M558.5 391.2V442.0" stroke="#c85a60"/>
<rect x="557" y="391.9" width="3" height="31.8" fill="#dc565c"/>
<path d="M562.5 407.3V425.0" stroke="#33907f"/>
<rect x="561" y="412.7" width="3" height="11.0" fill="#2c9c90"/>
<path d="M565.5 410.1V426.0" stroke="#c85a60"/>
<rect x="564" y="412.7" width="3" height="12.3" fill="#dc565c"/>
<path d="M568.5 419.7V433.4" stroke="#c85a60"/>
<rect x="567" y="425.0" width="3" height="3.6" fill="#dc565c"/>
<path d="M572.5 425.3V436.0" stroke="#c85a60"/>
<rect x="571" y="428.6" width="3" height="2.4" fill="#dc565c"/>
<path d="M575.5 428.3V443.4" stroke="#c85a60"/>
<rect x="574" y="431.0" width="3" height="8.7" fill="#dc565c"/>
<path d="M578.5 408.6V442.1" stroke="#33907f"/>
<rect x="577" y="412.7" width="3" height="27.0" fill="#2c9c90"/>
<path d="M582.5 407.5V414.2" stroke="#33907f"/>
<rect x="581" y="411.0" width="3" height="1.7" fill="#2c9c90"/>
<path d="M585.5 399.6V411.8" stroke="#33907f"/>
<rect x="584" y="405.0" width="3" height="6.0" fill="#2c9c90"/>
<path d="M588.5 403.2V416.6" stroke="#c85a60"/>
<rect x="587" y="405.0" width="3" height="10.0" fill="#dc565c"/>
<path d="M592.5 409.4V420.2" stroke="#c85a60"/>
<rect x="591" y="415.0" width="3" height="3.8" fill="#dc565c"/>
<path d="M595.5 413.4V421.8" stroke="#33907f"/>
<rect x="594" y="415.0" width="3" height="3.8" fill="#2c9c90"/>
<path d="M598.5 406.8V415.9" stroke="#33907f"/>
<rect x="597" y="407.8" width="3" height="7.2" fill="#2c9c90"/>
<path d="M602.5 395.3V410.5" stroke="#33907f"/>
<rect x="601" y="400.7" width="3" height="7.1" fill="#2c9c90"/>
<path d="M605.5 358.9V407.3" stroke="#33907f"/>
<rect x="604" y="364.8" width="3" height="35.9" fill="#2c9c90"/>
<path d="M608.5 363.9V373.5" stroke="#c85a60"/>
<rect x="607" y="364.8" width="3" height="7.5" fill="#dc565c"/>
<path d="M612.5 354.9V373.0" stroke="#33907f"/>
<rect x="611" y="357.0" width="3" height="15.3" fill="#2c9c90"/>
<path d="M615.5 355.4V371.3" stroke="#c85a60"/>
<rect x="614" y="357.0" width="3" height="10.8" fill="#dc565c"/>
<path d="M618.5 340.3V370.4" stroke="#33907f"/>
<rect x="617" y="345.3" width="3" height="22.5" fill="#2c9c90"/>
<path d="M622.5 330.0V347.7" stroke="#33907f"/>
<rect x="621" y="337.8" width="3" height="7.5" fill="#2c9c90"/>
<path d="M625.5 327.0V348.6" stroke="#c85a60"/>
<rect x="624" y="337.8" width="3" height="9.0" fill="#dc565c"/>
<path d="M628.5 345.9V351.2" stroke="#c85a60"/>
<rect x="627" y="346.8" width="3" height="1.2" fill="#dc565c"/>
<path d="M632.5 333.0V349.4" stroke="#33907f"/>
<rect x="631" y="339.0" width="3" height="9.0" fill="#2c9c90"/>
<path d="M635.5 337.4V353.8" stroke="#c85a60"/>
<rect x="634" y="339.0" width="3" height="12.3" fill="#dc565c"/>
<path d="M638.5 342.5V357.0" stroke="#33907f"/>
<rect x="637" y="349.0" width="3" height="2.3" fill="#2c9c90"/>
<path d="M642.5 345.6V349.5" stroke="#33907f"/>
<rect x="641" y="346.0" width="3" height="3.0" fill="#2c9c90"/>
<path d="M645.5 340.0V355.8" stroke="#c85a60"/>
<rect x="644" y="346.0" width="3" height="6.8" fill="#dc565c"/>
<path d="M648.5 352.5V373.1" stroke="#c85a60"/>
<rect x="647" y="352.8" width="3" height="18.0" fill="#dc565c"/>
<path d="M652.5 365.7V385.1" stroke="#c85a60"/>
<rect x="651" y="370.8" width="3" height="9.0" fill="#dc565c"/>
<path d="M655.5 378.4V388.1" stroke="#c85a60"/>
<rect x="654" y="379.8" width="3" height="7.5" fill="#dc565c"/>
<path d="M658.5 384.4V402.0" stroke="#c85a60"/>
<rect x="657" y="387.3" width="3" height="9.0" fill="#dc565c"/>
<path d="M662.5 370.9V400.2" stroke="#33907f"/>
<rect x="661" y="375.3" width="3" height="21.0" fill="#2c9c90"/>
<path d="M665.5 368.1V378.6" stroke="#33907f"/>
<rect x="664" y="370.8" width="3" height="4.5" fill="#2c9c90"/>
<path d="M668.5 364.1V372.2" stroke="#33907f"/>
<rect x="667" y="369.0" width="3" height="1.8" fill="#2c9c90"/>
<path d="M672.5 351.7V370.9" stroke="#33907f"/>
<rect x="671" y="355.8" width="3" height="13.2" fill="#2c9c90"/>
<path d="M675.5 346.7V359.9" stroke="#33907f"/>
<rect x="674" y="348.3" width="3" height="7.5" fill="#2c9c90"/>
<path d="M678.5 347.4V350.7" stroke="#c85a60"/>
<rect x="677" y="348.3" width="3" height="1.7" fill="#dc565c"/>
<path d="M682.5 341.2V352.5" stroke="#33907f"/>
<rect x="681" y="345.0" width="3" height="5.0" fill="#2c9c90"/>
<path d="M685.5 332.3V345.4" stroke="#33907f"/>
<rect x="684" y="336.3" width="3" height="8.7" fill="#2c9c90"/>
<path d="M688.5 333.4V356.4" stroke="#c85a60"/>
<rect x="687" y="336.3" width="3" height="13.5" fill="#dc565c"/>
<path d="M692.5 333.2V352.9" stroke="#33907f"/>
<rect x="691" y="339.3" width="3" height="10.5" fill="#2c9c90"/>
<path d="M695.5 324.1V346.3" stroke="#33907f"/>
<rect x="694" y="325.8" width="3" height="13.5" fill="#2c9c90"/>
<path d="M698.5 305.8V326.3" stroke="#33907f"/>
<rect x="697" y="307.9" width="3" height="17.9" fill="#2c9c90"/>
<path d="M702.5 303.2V322.7" stroke="#c85a60"/>
<rect x="701" y="307.9" width="3" height="12.0" fill="#dc565c"/>
<path d="M705.5 288.0V327.1" stroke="#33907f"/>
<rect x="704" y="292.9" width="3" height="27.0" fill="#2c9c90"/>
<path d="M709.5 283.3V295.4" stroke="#33907f"/>
<rect x="708" y="283.9" width="3" height="9.0" fill="#2c9c90"/>
<path d="M712.5 278.8V291.4" stroke="#c85a60"/>
<rect x="711" y="283.9" width="3" height="6.0" fill="#dc565c"/>
<path d="M715.5 269.1V293.7" stroke="#33907f"/>
<rect x="714" y="274.9" width="3" height="15.0" fill="#2c9c90"/>
<path d="M719.5 256.4V277.3" stroke="#33907f"/>
<rect x="718" y="264.4" width="3" height="10.5" fill="#2c9c90"/>
<path d="M722.5 246.1V266.2" stroke="#33907f"/>
<rect x="721" y="248.0" width="3" height="16.4" fill="#2c9c90"/>
<path d="M725.5 241.0V256.2" stroke="#33907f"/>
<rect x="724" y="243.4" width="3" height="4.6" fill="#2c9c90"/>
<path d="M729.5 236.0V245.0" stroke="#33907f"/>
<rect x="728" y="242.0" width="3" height="1.4" fill="#2c9c90"/>
<path d="M732.5 238.8V268.3" stroke="#c85a60"/>
<rect x="731" y="242.0" width="3" height="21.0" fill="#dc565c"/>
<path d="M735.5 261.8V274.9" stroke="#c85a60"/>
<rect x="734" y="263.0" width="3" height="9.0" fill="#dc565c"/>
<path d="M739.5 264.2V323.5" stroke="#c85a60"/>
<rect x="738" y="272.0" width="3" height="9.0" fill="#dc565c"/>
<path d="M742.5 280.3V291.2" stroke="#c85a60"/>
<rect x="741" y="281.0" width="3" height="7.4" fill="#dc565c"/>
<path d="M745.5 260.2V294.2" stroke="#33907f"/>
<rect x="744" y="267.4" width="3" height="21.0" fill="#2c9c90"/>
<path d="M749.5 259.9V300.0" stroke="#c85a60"/>
<rect x="748" y="267.4" width="3" height="7.6" fill="#dc565c"/>
<path d="M752.5 267.7V298.0" stroke="#c85a60"/>
<rect x="751" y="275.0" width="3" height="17.4" fill="#dc565c"/>
<path d="M755.5 287.6V334.0" stroke="#c85a60"/>
<rect x="754" y="292.4" width="3" height="7.6" fill="#dc565c"/>
<path d="M759.5 297.7V322.0" stroke="#c85a60"/>
<rect x="758" y="300.0" width="3" height="14.0" fill="#dc565c"/>
<path d="M762.5 305.6V323.5" stroke="#33907f"/>
<rect x="761" y="307.6" width="3" height="6.4" fill="#2c9c90"/>
<path d="M765.5 275.9V315.4" stroke="#33907f"/>
<rect x="764" y="277.0" width="3" height="30.6" fill="#2c9c90"/>
<path d="M769.5 255.9V283.7" stroke="#33907f"/>
<rect x="768" y="258.6" width="3" height="18.4" fill="#2c9c90"/>
<path d="M772.5 255.3V266.7" stroke="#c85a60"/>
<rect x="771" y="258.6" width="3" height="7.4" fill="#dc565c"/>
<path d="M775.5 263.2V275.5" stroke="#c85a60"/>
<rect x="774" y="266.0" width="3" height="2.0" fill="#dc565c"/>
<path d="M779.5 250.2V275.5" stroke="#33907f"/>
<rect x="778" y="253.0" width="3" height="15.0" fill="#2c9c90"/>
<path d="M782.5 245.6V259.8" stroke="#33907f"/>
<rect x="781" y="248.8" width="3" height="4.2" fill="#2c9c90"/>
<path d="M785.5 248.2V253.6" stroke="#c85a60"/>
<rect x="784" y="248.8" width="3" height="4.2" fill="#dc565c"/>
<path d="M789.5 224.4V255.1" stroke="#33907f"/>
<rect x="788" y="232.5" width="3" height="20.5" fill="#2c9c90"/>
<path d="M792.5 225.1V262.3" stroke="#c85a60"/>
<rect x="791" y="232.5" width="3" height="27.2" fill="#dc565c"/>
<path d="M795.5 220.7V264.9" stroke="#33907f"/>
<rect x="794" y="229.2" width="3" height="30.5" fill="#2c9c90"/>
<path d="M799.5 223.1V235.1" stroke="#c85a60"/>
<rect x="798" y="229.2" width="3" height="3.3" fill="#dc565c"/>
<path d="M802.5 228.5V239.0" stroke="#33907f"/>
<rect x="801" y="229.0" width="3" height="3.5" fill="#2c9c90"/>
<path d="M805.5 202.0V237.6" stroke="#33907f"/>
<rect x="804" y="210.7" width="3" height="18.3" fill="#2c9c90"/>
<path d="M809.5 208.7V218.0" stroke="#c85a60"/>
<rect x="808" y="210.7" width="3" height="3.3" fill="#dc565c"/>
<path d="M812.5 199.0V246.0" stroke="#c85a60"/>
<rect x="811" y="214.0" width="3" height="10.9" fill="#dc565c"/>
<path d="M815.5 207.1V229.1" stroke="#33907f"/>
<rect x="814" y="210.7" width="3" height="14.2" fill="#2c9c90"/>
<path d="M819.5 199.0V254.4" stroke="#c85a60"/>
<rect x="818" y="210.7" width="3" height="37.0" fill="#dc565c"/>
<path d="M822.5 240.9V270.0" stroke="#c85a60"/>
<rect x="821" y="247.7" width="3" height="6.6" fill="#dc565c"/>
<path d="M825.5 230.9V256.9" stroke="#33907f"/>
<rect x="824" y="233.6" width="3" height="20.7" fill="#2c9c90"/>
<path d="M829.5 227.3V262.7" stroke="#c85a60"/>
<rect x="828" y="233.6" width="3" height="28.3" fill="#dc565c"/>
<path d="M832.5 255.9V263.9" stroke="#c85a60"/>
<rect x="831" y="261.4" width="3" height="1.0" fill="#dc565c"/>
<path d="M835.5 261.4V300.0" stroke="#c85a60"/>
<rect x="834" y="262.0" width="3" height="19.5" fill="#dc565c"/>
<path d="M839.5 270.1V288.5" stroke="#33907f"/>
<rect x="838" y="278.0" width="3" height="3.5" fill="#2c9c90"/>
<path d="M842.5 272.0V370.3" stroke="#c85a60"/>
<rect x="841" y="278.0" width="3" height="90.6" fill="#dc565c"/>
<path d="M845.5 327.0V394.0" stroke="#33907f"/>
<rect x="844" y="344.3" width="3" height="24.3" fill="#2c9c90"/>
<path d="M849.5 331.0V402.0" stroke="#c85a60"/>
<rect x="848" y="344.3" width="3" height="30.0" fill="#dc565c"/>
<path d="M852.5 370.7V395.3" stroke="#c85a60"/>
<rect x="851" y="374.3" width="3" height="17.1" fill="#dc565c"/>
<path d="M855.5 385.2V460.0" stroke="#c85a60"/>
<rect x="854" y="391.4" width="3" height="41.5" fill="#dc565c"/>
<path d="M859.5 390.4V439.0" stroke="#33907f"/>
<rect x="858" y="391.4" width="3" height="41.5" fill="#2c9c90"/>
<path d="M862.5 383.0V412.0" stroke="#33907f"/>
<rect x="861" y="390.0" width="3" height="1.4" fill="#2c9c90"/>
<path d="M865.5 367.3V391.5" stroke="#33907f"/>
<rect x="864" y="368.6" width="3" height="21.4" fill="#2c9c90"/>
<path d="M869.5 367.6V379.9" stroke="#c85a60"/>
<rect x="868" y="368.6" width="3" height="5.7" fill="#dc565c"/>
<path d="M872.5 372.5V399.2" stroke="#c85a60"/>
<rect x="871" y="374.3" width="3" height="22.7" fill="#dc565c"/>
<path d="M876.5 394.3V417.0" stroke="#c85a60"/>
<rect x="875" y="397.0" width="3" height="13.0" fill="#dc565c"/>
<path d="M879.5 400.3V415.9" stroke="#33907f"/>
<rect x="878" y="404.0" width="3" height="6.0" fill="#2c9c90"/>
<path d="M882.5 384.3V409.0" stroke="#33907f"/>
<rect x="881" y="387.0" width="3" height="17.0" fill="#2c9c90"/>
<path d="M886.5 381.4V390.5" stroke="#c85a60"/>
<rect x="885" y="387.0" width="3" height="3.0" fill="#dc565c"/>
<path d="M889.5 380.6V391.2" stroke="#33907f"/>
<rect x="888" y="381.4" width="3" height="8.6" fill="#2c9c90"/>
<path d="M892.5 366.4V387.4" stroke="#33907f"/>
<rect x="891" y="370.0" width="3" height="11.4" fill="#2c9c90"/>
<path d="M896.5 364.6V385.5" stroke="#c85a60"/>
<rect x="895" y="370.0" width="3" height="12.9" fill="#dc565c"/>
<path d="M899.5 378.2V392.9" stroke="#c85a60"/>
<rect x="898" y="382.9" width="3" height="4.1" fill="#dc565c"/>
<path d="M902.5 382.5V390.6" stroke="#33907f"/>
<rect x="901" y="386.0" width="3" height="1.0" fill="#2c9c90"/>
<path d="M906.5 384.0V402.3" stroke="#c85a60"/>
<rect x="905" y="386.0" width="3" height="15.4" fill="#dc565c"/>
<path d="M909.5 400.0V420.0" stroke="#c85a60"/>
<rect x="908" y="401.4" width="3" height="5.6" fill="#dc565c"/>
<path d="M912.5 388.8V407.4" stroke="#33907f"/>
<rect x="911" y="390.0" width="3" height="17.0" fill="#2c9c90"/>
<path d="M916.5 386.1V398.1" stroke="#c85a60"/>
<rect x="915" y="390.0" width="3" height="7.0" fill="#dc565c"/>
<path d="M919.5 395.8V407.5" stroke="#c85a60"/>
<rect x="918" y="397.0" width="3" height="5.9" fill="#dc565c"/>
<path d="M922.5 402.4V409.3" stroke="#c85a60"/>
<rect x="921" y="402.9" width="3" height="5.7" fill="#dc565c"/>
<path d="M926.5 391.6V412.3" stroke="#33907f"/>
<rect x="925" y="394.7" width="3" height="13.9" fill="#2c9c90"/>
<path d="M929.5 386.2V398.8" stroke="#33907f"/>
<rect x="928" y="387.2" width="3" height="7.5" fill="#2c9c90"/>
<path d="M932.5 385.6V390.7" stroke="#c85a60"/>
<rect x="931" y="387.2" width="3" height="1.8" fill="#dc565c"/>
<path d="M936.5 387.3V404.7" stroke="#c85a60"/>
<rect x="935" y="389.0" width="3" height="12.5" fill="#dc565c"/>
<path d="M939.5 396.7V406.6" stroke="#33907f"/>
<rect x="938" y="399.0" width="3" height="2.5" fill="#2c9c90"/>
<path d="M942.5 397.1V416.8" stroke="#c85a60"/>
<rect x="941" y="399.0" width="3" height="16.7" fill="#dc565c"/>
<path d="M946.5 414.6V417.3" stroke="#c85a60"/>
<rect x="945" y="415.7" width="3" height="1.3" fill="#dc565c"/>
<path d="M949.5 411.8V421.6" stroke="#33907f"/>
<rect x="948" y="414.0" width="3" height="3.0" fill="#2c9c90"/>
<path d="M952.5 409.1V447.0" stroke="#c85a60"/>
<rect x="951" y="414.0" width="3" height="31.7" fill="#dc565c"/>
<path d="M956.5 445.0V452.0" stroke="#33907f"/>
<rect x="955" y="444.9" width="3" height="1.0" fill="#2c9c90"/>
<path d="M959.5 432.7V445.6" stroke="#33907f"/>
<rect x="958" y="437.5" width="3" height="7.5" fill="#2c9c90"/>
<path d="M962.5 435.7V441.5" stroke="#c85a60"/>
<rect x="961" y="437.5" width="3" height="1.5" fill="#dc565c"/>
<path d="M966.5 437.7V458.6" stroke="#c85a60"/>
<rect x="965" y="439.0" width="3" height="17.2" fill="#dc565c"/>
<path d="M969.5 455.6V466.0" stroke="#c85a60"/>
<rect x="968" y="456.2" width="3" height="3.8" fill="#dc565c"/>
<path d="M972.5 445.2V461.0" stroke="#33907f"/>
<rect x="971" y="450.2" width="3" height="9.8" fill="#2c9c90"/>
<path d="M976.5 438.6V455.3" stroke="#33907f"/>
<rect x="975" y="443.5" width="3" height="6.7" fill="#2c9c90"/>
<path d="M979.5 431.0V448.5" stroke="#33907f"/>
<rect x="978" y="431.5" width="3" height="12.0" fill="#2c9c90"/>
<path d="M982.5 424.1V434.7" stroke="#33907f"/>
<rect x="981" y="429.0" width="3" height="2.5" fill="#2c9c90"/>
<path d="M986.5 428.1V441.6" stroke="#c85a60"/>
<rect x="985" y="429.0" width="3" height="8.5" fill="#dc565c"/>
<path d="M989.5 428.7V442.0" stroke="#33907f"/>
<rect x="988" y="430.7" width="3" height="6.8" fill="#2c9c90"/>
<path d="M992.5 424.5V431.9" stroke="#33907f"/>
<rect x="991" y="425.5" width="3" height="5.2" fill="#2c9c90"/>
<path d="M996.5 422.9V431.1" stroke="#c85a60"/>
<rect x="995" y="425.5" width="3" height="3.7" fill="#dc565c"/>
<path d="M999.5 428.0V447.2" stroke="#c85a60"/>
<rect x="998" y="429.2" width="3" height="14.3" fill="#dc565c"/>
<path d="M1002.5 420.6V446.5" stroke="#33907f"/>
<rect x="1001" y="421.0" width="3" height="22.5" fill="#2c9c90"/>
<path d="M1006.5 413.1V425.7" stroke="#33907f"/>
<rect x="1005" y="413.5" width="3" height="7.5" fill="#2c9c90"/>
<path d="M1009.5 410.3V422.9" stroke="#c85a60"/>
<rect x="1008" y="413.5" width="3" height="6.5" fill="#dc565c"/>
<path d="M1012.5 411.1V422.2" stroke="#33907f"/>
<rect x="1011" y="412.7" width="3" height="7.3" fill="#2c9c90"/>
<path d="M1016.5 407.7V416.3" stroke="#33907f"/>
<rect x="1015" y="410.0" width="3" height="2.7" fill="#2c9c90"/>
<path d="M1019.5 402.9V410.4" stroke="#33907f"/>
<rect x="1018" y="405.3" width="3" height="4.7" fill="#2c9c90"/>
<path d="M1022.5 402.7V412.3" stroke="#c85a60"/>
<rect x="1021" y="405.3" width="3" height="5.7" fill="#dc565c"/>
<path d="M1026.5 406.7V419.4" stroke="#c85a60"/>
<rect x="1025" y="411.0" width="3" height="6.0" fill="#dc565c"/>
<path d="M1029.5 414.6V425.7" stroke="#c85a60"/>
<rect x="1028" y="417.0" width="3" height="8.0" fill="#dc565c"/>
<path d="M1032.5 422.9V440.6" stroke="#c85a60"/>
<rect x="1031" y="425.0" width="3" height="15.0" fill="#dc565c"/>
<path d="M1036.5 437.5V456.0" stroke="#c85a60"/>
<rect x="1035" y="440.0" width="3" height="2.0" fill="#dc565c"/>
<path d="M1039.5 411.0V445.8" stroke="#33907f"/>
<rect x="1038" y="436.0" width="3" height="6.0" fill="#2c9c90"/>
<path d="M1042.5 433.5V439.5" stroke="#c85a60"/>
<rect x="1041" y="436.0" width="3" height="3.0" fill="#dc565c"/>
<path d="M1046.5 437.2V451.9" stroke="#c85a60"/>
<rect x="1045" y="439.0" width="3" height="8.0" fill="#dc565c"/>
<path d="M1049.5 435.5V455.0" stroke="#33907f"/>
<rect x="1048" y="440.0" width="3" height="7.0" fill="#2c9c90"/>
<path d="M1053.5 421.6V441.0" stroke="#33907f"/>
<rect x="1052" y="426.0" width="3" height="14.0" fill="#2c9c90"/>
<path d="M1056.5 417.8V431.4" stroke="#33907f"/>
<rect x="1055" y="420.4" width="3" height="5.6" fill="#2c9c90"/>
<path d="M1059.5 414.8V424.8" stroke="#33907f"/>
<rect x="1058" y="415.7" width="3" height="4.7" fill="#2c9c90"/>
<path d="M1063.5 410.5V417.6" stroke="#33907f"/>
<rect x="1062" y="411.0" width="3" height="4.7" fill="#2c9c90"/>
<path d="M1066.5 409.1V416.2" stroke="#33907f"/>
<rect x="1065" y="410.0" width="3" height="1.0" fill="#2c9c90"/>
<path d="M1069.5 391.0V416.5" stroke="#c85a60"/>
<rect x="1068" y="410.0" width="3" height="5.7" fill="#dc565c"/>
<path d="M1073.5 399.9V416.9" stroke="#33907f"/>
<rect x="1072" y="405.3" width="3" height="10.4" fill="#2c9c90"/>
<path d="M1076.5 396.7V407.1" stroke="#33907f"/>
<rect x="1075" y="399.5" width="3" height="5.8" fill="#2c9c90"/>
<path d="M1079.5 394.9V400.5" stroke="#33907f"/>
<rect x="1078" y="396.0" width="3" height="3.5" fill="#2c9c90"/>
<path d="M1083.5 376.9V401.6" stroke="#33907f"/>
<rect x="1082" y="381.0" width="3" height="15.0" fill="#2c9c90"/>
<path d="M1086.5 373.9V381.8" stroke="#33907f"/>
<rect x="1085" y="378.7" width="3" height="2.3" fill="#2c9c90"/>
<path d="M1089.5 374.9V384.1" stroke="#c85a60"/>
<rect x="1088" y="378.7" width="3" height="3.3" fill="#dc565c"/>
<path d="M1093.5 359.1V385.6" stroke="#33907f"/>
<rect x="1092" y="362.5" width="3" height="19.5" fill="#2c9c90"/>
<path d="M1096.5 349.0V383.9" stroke="#c85a60"/>
<rect x="1095" y="362.5" width="3" height="15.0" fill="#dc565c"/>
<path d="M1099.5 360.1V382.6" stroke="#33907f"/>
<rect x="1098" y="362.5" width="3" height="15.0" fill="#2c9c90"/>
<path d="M1103.5 341.8V366.2" stroke="#33907f"/>
<rect x="1102" y="348.6" width="3" height="13.9" fill="#2c9c90"/>
<path d="M1106.5 335.3V351.4" stroke="#33907f"/>
<rect x="1105" y="340.5" width="3" height="8.1" fill="#2c9c90"/>
<path d="M1109.5 311.7V341.1" stroke="#33907f"/>
<rect x="1108" y="317.0" width="3" height="23.5" fill="#2c9c90"/>
<path d="M1113.5 315.3V330.2" stroke="#c85a60"/>
<rect x="1112" y="317.0" width="3" height="8.8" fill="#dc565c"/>
<path d="M1116.5 287.1V330.7" stroke="#33907f"/>
<rect x="1115" y="291.4" width="3" height="34.4" fill="#2c9c90"/>
<path d="M1119.5 282.0V292.0" stroke="#33907f"/>
<rect x="1118" y="282.4" width="3" height="9.0" fill="#2c9c90"/>
<path d="M1123.5 266.0V285.6" stroke="#33907f"/>
<rect x="1122" y="280.0" width="3" height="2.4" fill="#2c9c90"/>
<path d="M1126.5 273.1V291.7" stroke="#c85a60"/>
<rect x="1125" y="280.0" width="3" height="10.6" fill="#dc565c"/>
<path d="M1129.5 256.0V291.1" stroke="#33907f"/>
<rect x="1128" y="280.2" width="3" height="10.4" fill="#2c9c90"/>
<path d="M1133.5 277.6V284.0" stroke="#c85a60"/>
<rect x="1132" y="280.2" width="3" height="2.8" fill="#dc565c"/>
<path d="M1136.5 273.3V287.4" stroke="#33907f"/>
<rect x="1135" y="275.0" width="3" height="8.0" fill="#2c9c90"/>
<path d="M1139.5 262.0V307.9" stroke="#c85a60"/>
<rect x="1138" y="275.0" width="3" height="28.4" fill="#dc565c"/>
<path d="M1143.5 302.4V328.0" stroke="#c85a60"/>
<rect x="1142" y="303.4" width="3" height="16.4" fill="#dc565c"/>
<path d="M1146.5 305.2V320.7" stroke="#33907f"/>
<rect x="1145" y="306.4" width="3" height="13.4" fill="#2c9c90"/>
<path d="M1149.5 279.4V312.4" stroke="#33907f"/>
<rect x="1148" y="286.2" width="3" height="20.2" fill="#2c9c90"/>
<path d="M1153.5 261.0V286.7" stroke="#33907f"/>
<rect x="1152" y="282.4" width="3" height="3.8" fill="#2c9c90"/>
<path d="M1156.5 271.5V286.6" stroke="#33907f"/>
<rect x="1155" y="276.4" width="3" height="6.0" fill="#2c9c90"/>
<path d="M1159.5 271.5V286.5" stroke="#c85a60"/>
<rect x="1158" y="276.4" width="3" height="6.8" fill="#dc565c"/>
<path d="M1163.5 274.5V285.1" stroke="#33907f"/>
<rect x="1162" y="280.2" width="3" height="3.0" fill="#2c9c90"/>
<path d="M1166.5 245.0V304.2" stroke="#c85a60"/>
<rect x="1165" y="280.2" width="3" height="20.2" fill="#dc565c"/>
<path d="M1169.5 285.2V301.1" stroke="#33907f"/>
<rect x="1168" y="287.0" width="3" height="13.4" fill="#2c9c90"/>
<path d="M1173.5 286.6V315.4" stroke="#c85a60"/>
<rect x="1172" y="287.0" width="3" height="24.6" fill="#dc565c"/>
<path d="M1176.5 285.8V313.1" stroke="#33907f"/>
<rect x="1175" y="287.0" width="3" height="24.6" fill="#2c9c90"/>
<path d="M1179.5 272.6V291.9" stroke="#33907f"/>
<rect x="1178" y="276.4" width="3" height="10.6" fill="#2c9c90"/>
<path d="M1183.5 270.3V303.2" stroke="#c85a60"/>
<rect x="1182" y="276.4" width="3" height="25.5" fill="#dc565c"/>
<path d="M1186.5 299.8V309.2" stroke="#c85a60"/>
<rect x="1185" y="301.9" width="3" height="6.7" fill="#dc565c"/>
<path d="M1189.5 288.5V313.9" stroke="#33907f"/>
<rect x="1188" y="294.4" width="3" height="14.2" fill="#2c9c90"/>
<path d="M1193.5 179.0V310.3" stroke="#33907f"/>
<rect x="1192" y="187.0" width="3" height="107.4" fill="#2c9c90"/>
<path d="M1196.5 154.7V223.3" stroke="#c85a60"/>
<rect x="1195" y="187.0" width="3" height="32.4" fill="#dc565c"/>
<path d="M1199.5 176.0V223.3" stroke="#33907f"/>
<rect x="1198" y="196.0" width="3" height="23.4" fill="#2c9c90"/>
<path d="M1203.5 194.0V232.0" stroke="#c85a60"/>
<rect x="1202" y="196.0" width="3" height="17.0" fill="#dc565c"/>
<path d="M1206.5 193.9V213.7" stroke="#33907f"/>
<rect x="1205" y="196.0" width="3" height="17.0" fill="#2c9c90"/>
<path d="M1209.5 108.0V205.0" stroke="#33907f"/>
<rect x="1208" y="132.8" width="3" height="63.2" fill="#2c9c90"/>
<path d="M1213.5 69.4V215.5" stroke="#c85a60"/>
<rect x="1212" y="132.8" width="3" height="16.8" fill="#dc565c"/>
<path d="M1216.5 107.2V207.7" stroke="#33907f"/>
<rect x="1215" y="114.6" width="3" height="35.0" fill="#2c9c90"/>
<path d="M1220.5 60.3V119.1" stroke="#33907f"/>
<rect x="1219" y="92.7" width="3" height="21.9" fill="#2c9c90"/>
<path d="M1223.5 65.5V127.6" stroke="#c85a60"/>
<rect x="1222" y="92.7" width="3" height="29.7" fill="#dc565c"/>
</g>
<!-- measure box -->
<rect x="6" y="493" width="348" height="102.5" fill="rgba(41,98,255,0.2)"/>
<!-- logo circle -->
<circle cx="38" cy="605" r="24.5" fill="rgba(255,255,255,0.55)" stroke="#e4e6ec" stroke-width="1.2"/>
<g fill="#131722">
<path d="M22.3 597.5H36.6V613.4H30V602.8H22.3Z"/>
<circle cx="40.8" cy="600.3" r="3"/>
<path d="M46.4 597.5H54.8L46.6 613.4H40.2Z"/>
</g>
<!-- drawings -->
<g stroke="#575d92" stroke-width="1.1" fill="none" stroke-linecap="round">
<path d="M6 576.3L366.6 577.5M359.5 570.3L366.6 577.5L359.8 584.7"/>
<path d="M552 404L574.1 452.5M564.5 449L574.1 452.5L578.4 443.5"/>
<path d="M725.2 218.6L754.6 336.6M746.2 331.7L754.6 336.6L760.6 328.2"/>
<path d="M811.7 191.4L972 450.3L1216.7 64.9M1206 67.6L1216.7 64.9L1218.5 75.6"/>
</g>
<g stroke="#3d4b8a" stroke-width="1.4" fill="none">
<path d="M6.5 545H354M14 537.5L6.5 545L14 552.5"/>
<path d="M180.4 493V595.5M172.8 500.2L180.4 492.6L188 500.2"/>
</g>
<!-- last price line -->
<path d="M3 122.4H1260" stroke="#555864" stroke-width="1.2" stroke-dasharray="1.3 1.7"/>
<!-- crosshair -->
<g stroke="#72747d" stroke-width="1">
<path d="M451.5 0V638" stroke-dasharray="5.5 5.75" stroke-dashoffset="-6.25"/>
<path d="M3 515.5H1226" stroke-dasharray="5 5.95" stroke-dashoffset="-2.3"/>
</g>
<!-- nav buttons faint -->
<g stroke="#e2e3e7" stroke-width="1.8" fill="none">
<path d="M544 568.2H562"/>
<path d="M599 568.2H616.5M607.7 560V576.5"/>
<path d="M686.5 559L677 568.2L686.5 577.5"/>
<path d="M733.5 559L743 568.2L733.5 577.5"/>
<path d="M802 569A9.5 9.5 0 1 0 806.5 561M808 556.5L804.5 560.5L809 563"/>
</g>
<!-- tooltip -->
<rect x="65" y="373.3" width="228.8" height="104" rx="4.6" fill="#2962ff"/>
<g fill="#ffffff" font-weight="bold">
<text x="78.9" y="400.8" font-size="17.6" textLength="201.1" lengthAdjust="spacingAndGlyphs">16.054 (979.78%) , 16054</text>
<text x="113.8" y="431.1" font-size="17.6" textLength="130.4" lengthAdjust="spacingAndGlyphs">-104 bars, -104d</text>
<text x="126.6" y="460.9" font-size="17.6" textLength="105.7" lengthAdjust="spacingAndGlyphs">Vol 133.691M</text>
</g>
<!-- price axis -->
<rect x="1260.5" y="0" width="100.5" height="638" fill="#ffffff"/>
<rect x="1260.5" y="493" width="100.5" height="101.5" fill="rgba(41,98,255,0.25)"/>
<path d="M1260.5 0V680" stroke="#e0e3eb" stroke-width="1"/>
<g fill="#131722" font-size="16">
<text x="1276" y="31.8" textLength="52.5" lengthAdjust="spacingAndGlyphs">90.000</text>
<text x="1276" y="96.9" textLength="52.5" lengthAdjust="spacingAndGlyphs">80.000</text>
<text x="1276" y="161.4" textLength="52.5" lengthAdjust="spacingAndGlyphs">70.000</text>
<text x="1276" y="225.9" textLength="52.5" lengthAdjust="spacingAndGlyphs">60.000</text>
<text x="1276" y="290.5" textLength="52.5" lengthAdjust="spacingAndGlyphs">50.000</text>
<text x="1276" y="355" textLength="52.5" lengthAdjust="spacingAndGlyphs">40.000</text>
<text x="1276" y="419.4" textLength="52.5" lengthAdjust="spacingAndGlyphs">30.000</text>
<text x="1276" y="484" textLength="52.5" lengthAdjust="spacingAndGlyphs">20.000</text>
<text x="1276" y="548.6" textLength="52.5" lengthAdjust="spacingAndGlyphs">10.000</text>
<text x="1276" y="613" textLength="43.5" lengthAdjust="spacingAndGlyphs">0.000</text>
</g>
<!-- USD button -->
<rect x="1283.5" y="5.5" width="54.8" height="29.4" rx="4" fill="#ffffff" stroke="#e0e3eb" stroke-width="1"/>
<text x="1290.8" y="25.6" font-size="17.4" fill="#131722" textLength="29.7" lengthAdjust="spacingAndGlyphs">USD</text>
<path d="M1325.6 18.3L1329.6 22.1L1333.6 18.3" stroke="#131722" stroke-width="1.8" fill="none"/>
<!-- last price label -->
<path d="M1260 109H1351.4A3 3 0 0 1 1354.4 112V153.6A3 3 0 0 1 1351.4 156.6H1260Z" fill="#ef5350"/>
<g fill="#ffffff" font-weight="bold" font-size="17.6">
<text x="1276.6" y="129" textLength="53.2" lengthAdjust="spacingAndGlyphs">75.180</text>
<text x="1277.4" y="150" textLength="68.9" lengthAdjust="spacingAndGlyphs">16:08:48</text>
</g>
<!-- crosshair label + plus -->
<path d="M1229 499.3H1260V532H1229A3 3 0 0 1 1226 529V502.3A3 3 0 0 1 1229 499.3Z" fill="#131722"/>
<circle cx="1242.6" cy="515.6" r="10.6" fill="none" stroke="#d6d8de" stroke-width="1.3"/>
<path d="M1236.2 515.6H1249M1242.6 509.2V522" stroke="#d6d8de" stroke-width="1.3"/>
<path d="M1260 499.5H1335A3 3 0 0 1 1338 502.5V529A3 3 0 0 1 1335 532H1260Z" fill="#131722"/>
<text x="1278" y="521.8" font-size="17.2" font-weight="bold" fill="#ffffff" textLength="51.3" lengthAdjust="spacingAndGlyphs">14.202</text>
<path d="M1260 480H1335A3 3 0 0 1 1338 483V507H1260Z" fill="#2962ff"/>
<text x="1277.5" y="500" font-size="17.2" font-weight="bold" fill="#ffffff" textLength="51.8" lengthAdjust="spacingAndGlyphs">17.692</text>
<path d="M1260 583.4H1325.8A3 3 0 0 1 1328.8 586.4V606.6A3 3 0 0 1 1325.8 609.6H1260Z" fill="#2962ff"/>
<text x="1277" y="602.6" font-size="17.2" font-weight="bold" fill="#ffffff" textLength="43.6" lengthAdjust="spacingAndGlyphs">1.639</text>
<!-- time axis -->
<rect x="0" y="638" width="1260.5" height="42.5" fill="#ffffff"/>
<rect x="3" y="638" width="350" height="42" fill="rgba(41,98,255,0.25)"/>
<path d="M1260.5 638.5H1361" stroke="#e0e3eb" stroke-width="1"/>
<path d="M0 680.5H1361" stroke="#e0e3eb" stroke-width="1"/>
<path d="M3 638H109V671A3 3 0 0 1 106 674H6A3 3 0 0 1 3 671Z" fill="#2962ff"/>
<path d="M299 638H407V674H302A3 3 0 0 1 299 671Z" fill="#2962ff"/>
<path d="M407 638H503V671A3 3 0 0 1 500 674H407Z" fill="#131722"/>
<g fill="#ffffff" font-weight="bold" font-size="17.6">
<text x="16" y="665.8" textLength="80.3" lengthAdjust="spacingAndGlyphs">11 Sep '20</text>
<text x="313" y="665.8" textLength="80.8" lengthAdjust="spacingAndGlyphs">24 Dec '20</text>
<text x="410.7" y="665.8" textLength="77.1" lengthAdjust="spacingAndGlyphs">22 Jan '21</text>
</g>
<g fill="#131722" font-size="17.4">
<text x="198.8" y="665.9" font-size="18" textLength="9" lengthAdjust="spacingAndGlyphs">9</text>
<text x="563.5" y="666" textLength="28.3" lengthAdjust="spacingAndGlyphs">Mar</text>
<text x="766" y="666" textLength="32" lengthAdjust="spacingAndGlyphs">May</text>
<text x="975" y="666" textLength="22" lengthAdjust="spacingAndGlyphs">Jul</text>
<text x="1179" y="666" textLength="28" lengthAdjust="spacingAndGlyphs">Sep</text>
</g>
<!-- gear -->
<g stroke="#131722" stroke-width="1.6" fill="none">
<circle cx="1311" cy="658.2" r="7.4"/>
<path d="M1311 647.2V650.8M1311 665.6V669.2M1300 658.2H1303.6M1318.4 658.2H1322M1303.2 650.4L1305.8 653M1316.2 663.4L1318.8 666M1318.8 650.4L1316.2 653M1305.8 663.4L1303.2 666"/>
</g>
<!-- bottom toolbar -->
<rect x="0" y="681" width="1361" height="53" fill="#ffffff"/>
<g fill="#131722" font-size="20">
<text x="28.6" y="716.8" textLength="21.2" lengthAdjust="spacingAndGlyphs">1D</text>
<text x="73.6" y="716.8" textLength="21.5" lengthAdjust="spacingAndGlyphs">5D</text>
<text x="118" y="716.8" textLength="25" lengthAdjust="spacingAndGlyphs">1M</text>
<text x="165" y="716.8" textLength="24.5" lengthAdjust="spacingAndGlyphs">3M</text>
<text x="211" y="716.8" textLength="25.5" lengthAdjust="spacingAndGlyphs">6M</text>
<text x="258" y="716.8" textLength="36" lengthAdjust="spacingAndGlyphs">YTD</text>
<text x="361" y="716.8" textLength="21.6" lengthAdjust="spacingAndGlyphs">5Y</text>
<text x="404" y="716.8" textLength="24" lengthAdjust="spacingAndGlyphs">All</text>
<text x="1021.7" y="716.8" textLength="140" lengthAdjust="spacingAndGlyphs">07:51:12 (UTC)</text>
<text x="1213.5" y="716.8" textLength="18" lengthAdjust="spacingAndGlyphs">%</text>
<text x="1255" y="716.8" textLength="26" lengthAdjust="spacingAndGlyphs">log</text>
</g>
<text x="317.5" y="716.8" font-size="20" fill="#3d4fb0" textLength="20.5" lengthAdjust="spacingAndGlyphs">1Y</text>
<rect x="316" y="726" width="20" height="3" rx="1" fill="#3a58c8"/>
<text x="1303.7" y="716.8" font-size="20" fill="#3d4fb0" textLength="41" lengthAdjust="spacingAndGlyphs">auto</text>
<path d="M453.5 692.5V725.6M1187.5 693V726" stroke="#e0e3eb" stroke-width="1"/>
<!-- calendar icon -->
<g stroke="#131722" stroke-width="1.6" fill="none" stroke-linecap="round" stroke-linejoin="round">
<path d="M480.5 707V701.8A2.5 2.5 0 0 1 483 699.3H500.4A2.5 2.5 0 0 1 502.9 701.8V716.8A2.5 2.5 0 0 1 500.4 719.3H491.8"/>
<path d="M480.5 705.5H502.9M486.3 697.5V701M496.7 697.5V701"/>
<path d="M478.3 714.6H489.4M484.2 709.4L489.4 714.6L484.2 719.6"/>
</g>
<!-- left strip -->
<rect x="0" y="0" width="2.6" height="734" fill="#e3e4e9"/>
</svg>
</body></html>
